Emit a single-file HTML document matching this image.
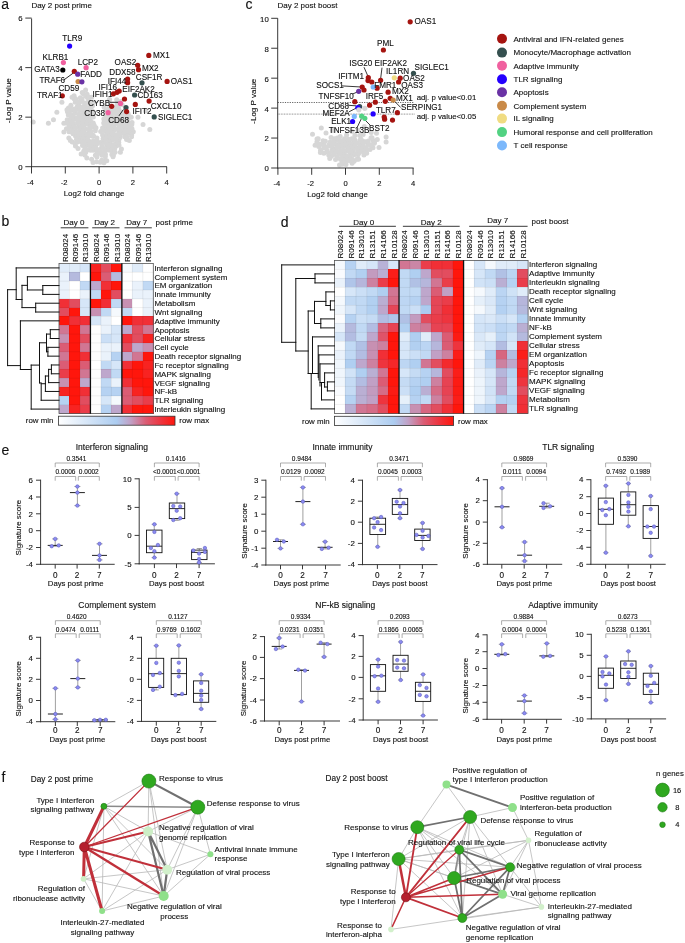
<!DOCTYPE html>
<html><head><meta charset="utf-8"><title>Figure</title>
<style>
html,body{margin:0;padding:0;background:#fff;}
svg{display:block;font-family:"Liberation Sans",sans-serif;}
text{fill:#111;stroke:#111;stroke-width:0.12px;}
</style></head><body>
<svg width="685" height="943" viewBox="0 0 685 943">
<rect width="685" height="943" fill="#fff"/>
<text x="1.2" y="8.8" font-size="14">a</text>
<text x="31.4" y="8.4" font-size="8">Day 2 post prime</text>
<g fill="#d6d6d6">
<circle cx="93.05" cy="162.54" r="2.5"/>
<circle cx="96.53" cy="161.87" r="2.5"/>
<circle cx="100.29" cy="162.3" r="2.5"/>
<circle cx="103.94" cy="162.76" r="2.5"/>
<circle cx="91.61" cy="159.19" r="2.5"/>
<circle cx="101.73" cy="160.34" r="2.5"/>
<circle cx="105.07" cy="160.16" r="2.5"/>
<circle cx="106.77" cy="160.76" r="2.5"/>
<circle cx="86.83" cy="157.92" r="2.5"/>
<circle cx="96.91" cy="156.97" r="2.5"/>
<circle cx="105.35" cy="156.46" r="2.5"/>
<circle cx="113.03" cy="156.65" r="2.5"/>
<circle cx="81.15" cy="153.89" r="2.5"/>
<circle cx="84.89" cy="155.11" r="2.5"/>
<circle cx="95.38" cy="155.3" r="2.5"/>
<circle cx="98.28" cy="153.47" r="2.5"/>
<circle cx="101.99" cy="155.24" r="2.5"/>
<circle cx="105.39" cy="154.37" r="2.5"/>
<circle cx="111.83" cy="154.38" r="2.5"/>
<circle cx="113.44" cy="154.99" r="2.5"/>
<circle cx="83.71" cy="151.15" r="2.5"/>
<circle cx="85.9" cy="151.94" r="2.5"/>
<circle cx="90.47" cy="150.34" r="2.5"/>
<circle cx="93.2" cy="150.34" r="2.5"/>
<circle cx="96.73" cy="150.97" r="2.5"/>
<circle cx="100.39" cy="152.4" r="2.5"/>
<circle cx="102.86" cy="152.44" r="2.5"/>
<circle cx="105.73" cy="150.41" r="2.5"/>
<circle cx="109.67" cy="150.31" r="2.5"/>
<circle cx="112.55" cy="151.59" r="2.5"/>
<circle cx="115.04" cy="152.15" r="2.5"/>
<circle cx="120.36" cy="152.22" r="2.5"/>
<circle cx="78.01" cy="148.52" r="2.5"/>
<circle cx="84.91" cy="148.6" r="2.5"/>
<circle cx="88.26" cy="149.44" r="2.5"/>
<circle cx="91.32" cy="148.32" r="2.5"/>
<circle cx="95.08" cy="147.9" r="2.5"/>
<circle cx="97.46" cy="149.53" r="2.5"/>
<circle cx="101.25" cy="148.58" r="2.5"/>
<circle cx="103.43" cy="148.29" r="2.5"/>
<circle cx="107.98" cy="147.42" r="2.5"/>
<circle cx="111.35" cy="148.76" r="2.5"/>
<circle cx="114.68" cy="148.4" r="2.5"/>
<circle cx="121.46" cy="149" r="2.5"/>
<circle cx="75.48" cy="145.99" r="2.5"/>
<circle cx="82.5" cy="145.51" r="2.5"/>
<circle cx="86.55" cy="145.21" r="2.5"/>
<circle cx="89.35" cy="145.19" r="2.5"/>
<circle cx="92.66" cy="145.81" r="2.5"/>
<circle cx="95.81" cy="145.33" r="2.5"/>
<circle cx="101.81" cy="145.76" r="2.5"/>
<circle cx="106.67" cy="145.19" r="2.5"/>
<circle cx="108.84" cy="146.27" r="2.5"/>
<circle cx="112.18" cy="144.92" r="2.5"/>
<circle cx="115.91" cy="146.04" r="2.5"/>
<circle cx="118.96" cy="145.24" r="2.5"/>
<circle cx="72.28" cy="142" r="2.5"/>
<circle cx="75.13" cy="143.58" r="2.5"/>
<circle cx="77.5" cy="141.9" r="2.5"/>
<circle cx="81.47" cy="142.05" r="2.5"/>
<circle cx="85.37" cy="143.48" r="2.5"/>
<circle cx="87.3" cy="142.24" r="2.5"/>
<circle cx="91.98" cy="143.04" r="2.5"/>
<circle cx="95.27" cy="142.39" r="2.5"/>
<circle cx="97.44" cy="143.38" r="2.5"/>
<circle cx="100.7" cy="142.39" r="2.5"/>
<circle cx="104.32" cy="142.56" r="2.5"/>
<circle cx="107.6" cy="143.66" r="2.5"/>
<circle cx="110.34" cy="141.64" r="2.5"/>
<circle cx="115.38" cy="143.57" r="2.5"/>
<circle cx="118.77" cy="142.59" r="2.5"/>
<circle cx="70.39" cy="140.6" r="2.5"/>
<circle cx="76.49" cy="139.4" r="2.5"/>
<circle cx="79.4" cy="139.26" r="2.5"/>
<circle cx="82.1" cy="140.06" r="2.5"/>
<circle cx="85.88" cy="140.54" r="2.5"/>
<circle cx="88.65" cy="140.75" r="2.5"/>
<circle cx="93.38" cy="140.79" r="2.5"/>
<circle cx="97.12" cy="140.74" r="2.5"/>
<circle cx="103.02" cy="138.79" r="2.5"/>
<circle cx="106.69" cy="139.14" r="2.5"/>
<circle cx="109.01" cy="140.22" r="2.5"/>
<circle cx="112.8" cy="139.67" r="2.5"/>
<circle cx="117.02" cy="140.11" r="2.5"/>
<circle cx="119" cy="139.32" r="2.5"/>
<circle cx="126.57" cy="139.54" r="2.5"/>
<circle cx="129.33" cy="140.56" r="2.5"/>
<circle cx="68.84" cy="137.92" r="2.5"/>
<circle cx="75.51" cy="135.91" r="2.5"/>
<circle cx="78.38" cy="137.79" r="2.5"/>
<circle cx="80.41" cy="136.49" r="2.5"/>
<circle cx="84.19" cy="137.05" r="2.5"/>
<circle cx="87.83" cy="136.93" r="2.5"/>
<circle cx="91.91" cy="135.89" r="2.5"/>
<circle cx="93.62" cy="136.17" r="2.5"/>
<circle cx="96.95" cy="138.03" r="2.5"/>
<circle cx="103.59" cy="136.99" r="2.5"/>
<circle cx="107.39" cy="136.58" r="2.5"/>
<circle cx="110.77" cy="137.31" r="2.5"/>
<circle cx="114.59" cy="136.68" r="2.5"/>
<circle cx="117.02" cy="136.61" r="2.5"/>
<circle cx="120.17" cy="137.11" r="2.5"/>
<circle cx="124.78" cy="136.73" r="2.5"/>
<circle cx="126.89" cy="136.71" r="2.5"/>
<circle cx="131.52" cy="136.73" r="2.5"/>
<circle cx="73" cy="133.84" r="2.5"/>
<circle cx="76.44" cy="134.57" r="2.5"/>
<circle cx="79.58" cy="134.55" r="2.5"/>
<circle cx="82.96" cy="133.56" r="2.5"/>
<circle cx="86.43" cy="134.55" r="2.5"/>
<circle cx="88.71" cy="133.95" r="2.5"/>
<circle cx="92.79" cy="134.95" r="2.5"/>
<circle cx="102.57" cy="134.99" r="2.5"/>
<circle cx="106.79" cy="133.6" r="2.5"/>
<circle cx="109.37" cy="133.29" r="2.5"/>
<circle cx="113.44" cy="134.48" r="2.5"/>
<circle cx="116.9" cy="134.76" r="2.5"/>
<circle cx="119.72" cy="134.63" r="2.5"/>
<circle cx="122.79" cy="133.25" r="2.5"/>
<circle cx="126.14" cy="133.03" r="2.5"/>
<circle cx="129.85" cy="133.12" r="2.5"/>
<circle cx="131.67" cy="134.96" r="2.5"/>
<circle cx="63.85" cy="132" r="2.5"/>
<circle cx="68.96" cy="131.63" r="2.5"/>
<circle cx="72.24" cy="132.24" r="2.5"/>
<circle cx="74.97" cy="131.91" r="2.5"/>
<circle cx="77.08" cy="131.84" r="2.5"/>
<circle cx="81.42" cy="131.72" r="2.5"/>
<circle cx="83.83" cy="131.8" r="2.5"/>
<circle cx="88.96" cy="130.28" r="2.5"/>
<circle cx="90.91" cy="131.39" r="2.5"/>
<circle cx="95.32" cy="130.68" r="2.5"/>
<circle cx="100.65" cy="131.5" r="2.5"/>
<circle cx="105.06" cy="131.01" r="2.5"/>
<circle cx="107.51" cy="131.02" r="2.5"/>
<circle cx="110.77" cy="131.07" r="2.5"/>
<circle cx="113.48" cy="131.25" r="2.5"/>
<circle cx="118.74" cy="131.06" r="2.5"/>
<circle cx="121.54" cy="130.5" r="2.5"/>
<circle cx="124.72" cy="131.81" r="2.5"/>
<circle cx="127.98" cy="131.29" r="2.5"/>
<circle cx="131.21" cy="132.12" r="2.5"/>
<circle cx="133.31" cy="131.79" r="2.5"/>
<circle cx="66.42" cy="128.86" r="2.5"/>
<circle cx="69.16" cy="127.87" r="2.5"/>
<circle cx="72.49" cy="128.57" r="2.5"/>
<circle cx="76.04" cy="127.79" r="2.5"/>
<circle cx="80.17" cy="129.37" r="2.5"/>
<circle cx="82.6" cy="128.83" r="2.5"/>
<circle cx="86.16" cy="129.16" r="2.5"/>
<circle cx="89.84" cy="127.86" r="2.5"/>
<circle cx="92.33" cy="127.33" r="2.5"/>
<circle cx="95.99" cy="127.66" r="2.5"/>
<circle cx="102.54" cy="127.99" r="2.5"/>
<circle cx="106.75" cy="127.59" r="2.5"/>
<circle cx="110.53" cy="128.33" r="2.5"/>
<circle cx="112.97" cy="128.31" r="2.5"/>
<circle cx="116.79" cy="129.08" r="2.5"/>
<circle cx="119.48" cy="128.34" r="2.5"/>
<circle cx="123.14" cy="129.16" r="2.5"/>
<circle cx="125.73" cy="128.89" r="2.5"/>
<circle cx="130.26" cy="128.31" r="2.5"/>
<circle cx="131.97" cy="128.86" r="2.5"/>
<circle cx="68.98" cy="124.94" r="2.5"/>
<circle cx="70.82" cy="124.97" r="2.5"/>
<circle cx="74.11" cy="125.96" r="2.5"/>
<circle cx="78.89" cy="126.39" r="2.5"/>
<circle cx="80.86" cy="126.31" r="2.5"/>
<circle cx="84.29" cy="125.34" r="2.5"/>
<circle cx="88.5" cy="124.6" r="2.5"/>
<circle cx="90.4" cy="126.24" r="2.5"/>
<circle cx="94.14" cy="125.19" r="2.5"/>
<circle cx="104.68" cy="125.89" r="2.5"/>
<circle cx="106.72" cy="125.14" r="2.5"/>
<circle cx="110.96" cy="125.47" r="2.5"/>
<circle cx="113.76" cy="125.69" r="2.5"/>
<circle cx="118.7" cy="125.27" r="2.5"/>
<circle cx="121.1" cy="124.67" r="2.5"/>
<circle cx="123.8" cy="125.87" r="2.5"/>
<circle cx="126.75" cy="126.36" r="2.5"/>
<circle cx="131.8" cy="124.62" r="2.5"/>
<circle cx="63.85" cy="123.2" r="2.5"/>
<circle cx="66.1" cy="123.02" r="2.5"/>
<circle cx="70.19" cy="123.31" r="2.5"/>
<circle cx="72.63" cy="123.19" r="2.5"/>
<circle cx="77.46" cy="123.02" r="2.5"/>
<circle cx="79.83" cy="121.78" r="2.5"/>
<circle cx="83.04" cy="122.31" r="2.5"/>
<circle cx="86.83" cy="123.03" r="2.5"/>
<circle cx="89.8" cy="121.94" r="2.5"/>
<circle cx="93.27" cy="122.92" r="2.5"/>
<circle cx="103.71" cy="122.98" r="2.5"/>
<circle cx="105.32" cy="123.59" r="2.5"/>
<circle cx="108.66" cy="122.26" r="2.5"/>
<circle cx="113.24" cy="122.85" r="2.5"/>
<circle cx="116.17" cy="122.96" r="2.5"/>
<circle cx="119.26" cy="122.22" r="2.5"/>
<circle cx="121.94" cy="121.69" r="2.5"/>
<circle cx="126.42" cy="123.19" r="2.5"/>
<circle cx="129.34" cy="123.16" r="2.5"/>
<circle cx="132.03" cy="122.38" r="2.5"/>
<circle cx="67.19" cy="119.77" r="2.5"/>
<circle cx="70.94" cy="120.36" r="2.5"/>
<circle cx="74.48" cy="119.4" r="2.5"/>
<circle cx="77.89" cy="119.86" r="2.5"/>
<circle cx="82" cy="119.44" r="2.5"/>
<circle cx="85.46" cy="118.91" r="2.5"/>
<circle cx="87.5" cy="118.88" r="2.5"/>
<circle cx="90.45" cy="120.38" r="2.5"/>
<circle cx="103.81" cy="119.08" r="2.5"/>
<circle cx="107.62" cy="120.3" r="2.5"/>
<circle cx="111.79" cy="120.31" r="2.5"/>
<circle cx="114.6" cy="118.99" r="2.5"/>
<circle cx="117.48" cy="119.09" r="2.5"/>
<circle cx="121.06" cy="119.91" r="2.5"/>
<circle cx="123.64" cy="119.21" r="2.5"/>
<circle cx="128.22" cy="118.73" r="2.5"/>
<circle cx="70.84" cy="116.64" r="2.5"/>
<circle cx="73.27" cy="117.08" r="2.5"/>
<circle cx="76.74" cy="117.94" r="2.5"/>
<circle cx="80.16" cy="116.45" r="2.5"/>
<circle cx="83.84" cy="116.86" r="2.5"/>
<circle cx="86.57" cy="117.39" r="2.5"/>
<circle cx="88.56" cy="117.49" r="2.5"/>
<circle cx="93.31" cy="116.88" r="2.5"/>
<circle cx="106.2" cy="116.81" r="2.5"/>
<circle cx="108.78" cy="116.96" r="2.5"/>
<circle cx="111.73" cy="116.89" r="2.5"/>
<circle cx="116.37" cy="116.77" r="2.5"/>
<circle cx="119.5" cy="117.9" r="2.5"/>
<circle cx="123.51" cy="116.09" r="2.5"/>
<circle cx="126.59" cy="117.16" r="2.5"/>
<circle cx="128.94" cy="116.31" r="2.5"/>
<circle cx="68.29" cy="114.97" r="2.5"/>
<circle cx="71.11" cy="114.84" r="2.5"/>
<circle cx="75.23" cy="113.22" r="2.5"/>
<circle cx="78.89" cy="114.24" r="2.5"/>
<circle cx="82.34" cy="114.5" r="2.5"/>
<circle cx="85.23" cy="113.68" r="2.5"/>
<circle cx="88.67" cy="114.97" r="2.5"/>
<circle cx="92.1" cy="113.88" r="2.5"/>
<circle cx="107.77" cy="113.16" r="2.5"/>
<circle cx="110.09" cy="113.09" r="2.5"/>
<circle cx="113.74" cy="113.28" r="2.5"/>
<circle cx="117.69" cy="114.46" r="2.5"/>
<circle cx="121.08" cy="113.85" r="2.5"/>
<circle cx="124.63" cy="113.59" r="2.5"/>
<circle cx="128.17" cy="113.81" r="2.5"/>
<circle cx="67.43" cy="111.63" r="2.5"/>
<circle cx="69.57" cy="111.22" r="2.5"/>
<circle cx="73.36" cy="110.54" r="2.5"/>
<circle cx="75.36" cy="110.51" r="2.5"/>
<circle cx="80.37" cy="110.37" r="2.5"/>
<circle cx="82.96" cy="110.48" r="2.5"/>
<circle cx="85.71" cy="110.43" r="2.5"/>
<circle cx="89.44" cy="110.42" r="2.5"/>
<circle cx="92.09" cy="110.42" r="2.5"/>
<circle cx="106.13" cy="110.18" r="2.5"/>
<circle cx="108.4" cy="111.04" r="2.5"/>
<circle cx="112.55" cy="111.6" r="2.5"/>
<circle cx="115.06" cy="110.94" r="2.5"/>
<circle cx="119.12" cy="110.11" r="2.5"/>
<circle cx="125.06" cy="111.1" r="2.5"/>
<circle cx="68.47" cy="107.94" r="2.5"/>
<circle cx="70.51" cy="108.78" r="2.5"/>
<circle cx="74.31" cy="108.91" r="2.5"/>
<circle cx="78.02" cy="109.23" r="2.5"/>
<circle cx="80.96" cy="107.73" r="2.5"/>
<circle cx="84.18" cy="108.97" r="2.5"/>
<circle cx="88.28" cy="107.94" r="2.5"/>
<circle cx="90.41" cy="108.68" r="2.5"/>
<circle cx="108.83" cy="108.48" r="2.5"/>
<circle cx="110.01" cy="107.25" r="2.5"/>
<circle cx="113.5" cy="107.55" r="2.5"/>
<circle cx="116.68" cy="107.3" r="2.5"/>
<circle cx="70.89" cy="105.36" r="2.5"/>
<circle cx="77.37" cy="106.38" r="2.5"/>
<circle cx="78.73" cy="104.98" r="2.5"/>
<circle cx="83.29" cy="106.39" r="2.5"/>
<circle cx="85.44" cy="104.95" r="2.5"/>
<circle cx="90.42" cy="104.56" r="2.5"/>
<circle cx="92.59" cy="105.81" r="2.5"/>
<circle cx="109.98" cy="105.92" r="2.5"/>
<circle cx="116.98" cy="105.11" r="2.5"/>
<circle cx="118.75" cy="106.02" r="2.5"/>
<circle cx="122.14" cy="104.68" r="2.5"/>
<circle cx="75.26" cy="102.29" r="2.5"/>
<circle cx="78.07" cy="101.78" r="2.5"/>
<circle cx="81.86" cy="101.49" r="2.5"/>
<circle cx="84.63" cy="103.11" r="2.5"/>
<circle cx="88.39" cy="101.65" r="2.5"/>
<circle cx="90.72" cy="103.29" r="2.5"/>
<circle cx="118.57" cy="103.05" r="2.5"/>
<circle cx="120.71" cy="101.6" r="2.5"/>
<circle cx="74.15" cy="98.8" r="2.5"/>
<circle cx="75.59" cy="98.74" r="2.5"/>
<circle cx="82.06" cy="98.9" r="2.5"/>
<circle cx="88.58" cy="99.07" r="2.5"/>
<circle cx="109.59" cy="99.49" r="2.5"/>
<circle cx="116.69" cy="99.74" r="2.5"/>
<circle cx="74.09" cy="95.87" r="2.5"/>
<circle cx="80.35" cy="97.82" r="2.5"/>
<circle cx="85.57" cy="95.88" r="2.5"/>
<circle cx="87.39" cy="97.52" r="2.5"/>
<circle cx="91.61" cy="97.37" r="2.5"/>
<circle cx="83.28" cy="93.81" r="2.5"/>
<circle cx="87.09" cy="94.13" r="2.5"/>
</g>
<circle cx="33.19" cy="122.11" r="2.5" fill="#d6d6d6"/>
<circle cx="48.4" cy="123.35" r="2.5" fill="#d6d6d6"/>
<circle cx="53.47" cy="119.64" r="2.5" fill="#d6d6d6"/>
<circle cx="56.85" cy="112.21" r="2.5" fill="#d6d6d6"/>
<circle cx="61.92" cy="102.3" r="2.5" fill="#d6d6d6"/>
<circle cx="72.06" cy="97.34" r="2.5" fill="#d6d6d6"/>
<circle cx="78.82" cy="102.3" r="2.5" fill="#d6d6d6"/>
<circle cx="82.2" cy="92.39" r="2.5" fill="#d6d6d6"/>
<circle cx="85.58" cy="89.91" r="2.5" fill="#d6d6d6"/>
<circle cx="149.8" cy="129.54" r="2.5" fill="#d6d6d6"/>
<circle cx="143.04" cy="124.59" r="2.5" fill="#d6d6d6"/>
<circle cx="137.97" cy="117.16" r="2.5" fill="#d6d6d6"/>
<circle cx="129.52" cy="127.07" r="2.5" fill="#d6d6d6"/>
<circle cx="131.21" cy="117.16" r="2.5" fill="#d6d6d6"/>
<circle cx="88.96" cy="97.34" r="2.5" fill="#d6d6d6"/>
<circle cx="94.03" cy="102.3" r="2.5" fill="#d6d6d6"/>
<circle cx="109.24" cy="99.82" r="2.5" fill="#d6d6d6"/>
<circle cx="104.17" cy="107.25" r="2.5" fill="#d6d6d6"/>
<circle cx="66.99" cy="109.73" r="2.5" fill="#d6d6d6"/>
<circle cx="145.57" cy="110.97" r="2.5" fill="#d6d6d6"/>
<circle cx="121.07" cy="112.21" r="2.5" fill="#d6d6d6"/>
<line x1="31.6" y1="18.5" x2="31.6" y2="167.2" stroke="#2e2e2e" stroke-width="0.95"/>
<line x1="31.1" y1="166.7" x2="166.9" y2="166.7" stroke="#2e2e2e" stroke-width="0.95"/>
<line x1="25.3" y1="166.7" x2="31.6" y2="166.7" stroke="#2e2e2e" stroke-width="0.95"/>
<text x="22.7" y="170" font-size="7.8" text-anchor="end">0</text>
<line x1="25.3" y1="117.16" x2="31.6" y2="117.16" stroke="#2e2e2e" stroke-width="0.95"/>
<text x="22.7" y="120.46" font-size="7.8" text-anchor="end">2</text>
<line x1="25.3" y1="67.62" x2="31.6" y2="67.62" stroke="#2e2e2e" stroke-width="0.95"/>
<text x="22.7" y="70.92" font-size="7.8" text-anchor="end">4</text>
<line x1="25.3" y1="18.08" x2="31.6" y2="18.08" stroke="#2e2e2e" stroke-width="0.95"/>
<text x="22.7" y="21.38" font-size="7.8" text-anchor="end">6</text>
<line x1="31.5" y1="166.7" x2="31.5" y2="173.5" stroke="#2e2e2e" stroke-width="0.95"/>
<text x="30.4" y="184.5" font-size="7.6" text-anchor="middle">-4</text>
<line x1="65.3" y1="166.7" x2="65.3" y2="173.5" stroke="#2e2e2e" stroke-width="0.95"/>
<text x="64.2" y="184.5" font-size="7.6" text-anchor="middle">-2</text>
<line x1="99.1" y1="166.7" x2="99.1" y2="173.5" stroke="#2e2e2e" stroke-width="0.95"/>
<text x="99.1" y="184.5" font-size="7.6" text-anchor="middle">0</text>
<line x1="132.9" y1="166.7" x2="132.9" y2="173.5" stroke="#2e2e2e" stroke-width="0.95"/>
<text x="132.9" y="184.5" font-size="7.6" text-anchor="middle">2</text>
<line x1="166.7" y1="166.7" x2="166.7" y2="173.5" stroke="#2e2e2e" stroke-width="0.95"/>
<text x="166.7" y="184.5" font-size="7.6" text-anchor="middle">4</text>
<text x="94" y="195.8" font-size="7.9" text-anchor="middle">Log2 fold change</text>
<text x="11" y="100.6" font-size="8" text-anchor="middle" transform="rotate(-90 11 100.6)">-Log P value</text>
<line x1="63.8" y1="80" x2="73.3" y2="73" stroke="#111" stroke-width="0.9"/>
<line x1="109.3" y1="102.3" x2="118.9" y2="102.3" stroke="#111" stroke-width="0.9"/>
<line x1="118.9" y1="115.9" x2="123.4" y2="109.5" stroke="#111" stroke-width="0.9"/>
<circle cx="69.6" cy="46.1" r="2.6" fill="#2400ff"/>
<circle cx="63.4" cy="62.6" r="2.6" fill="#f0609f"/>
<circle cx="86.1" cy="67.7" r="2.6" fill="#f0609f"/>
<circle cx="62.8" cy="70" r="2.6" fill="#000"/>
<circle cx="74.3" cy="71.3" r="2.6" fill="#a51410"/>
<circle cx="77.7" cy="74.2" r="2.6" fill="#6a32a5"/>
<circle cx="78.1" cy="81.5" r="2.6" fill="#c98a48"/>
<circle cx="81.9" cy="81.8" r="2.6" fill="#6a32a5"/>
<circle cx="62.3" cy="95.8" r="2.6" fill="#a51410"/>
<circle cx="148.8" cy="55.4" r="2.6" fill="#a51410"/>
<circle cx="137.7" cy="65.3" r="2.6" fill="#a51410"/>
<circle cx="138.5" cy="69.7" r="2.6" fill="#a51410"/>
<circle cx="127.6" cy="79" r="2.6" fill="#a51410"/>
<circle cx="127.6" cy="82.7" r="2.6" fill="#a51410"/>
<circle cx="142" cy="82.8" r="2.6" fill="#35504f"/>
<circle cx="167.1" cy="81.4" r="2.6" fill="#a51410"/>
<circle cx="119.2" cy="91" r="2.6" fill="#a51410"/>
<circle cx="117" cy="92.3" r="2.6" fill="#a51410"/>
<circle cx="113.4" cy="93.8" r="2.6" fill="#a51410"/>
<circle cx="134.6" cy="95" r="2.6" fill="#35504f"/>
<circle cx="124.5" cy="99" r="2.6" fill="#a51410"/>
<circle cx="149.1" cy="101.1" r="2.6" fill="#a51410"/>
<circle cx="135.3" cy="104.4" r="2.6" fill="#a51410"/>
<circle cx="120.5" cy="103.4" r="2.6" fill="#f0609f"/>
<circle cx="111.7" cy="106.3" r="2.6" fill="#a51410"/>
<circle cx="126" cy="107.6" r="2.6" fill="#35504f"/>
<circle cx="126.6" cy="111.6" r="2.6" fill="#a51410"/>
<circle cx="108.1" cy="112.7" r="2.6" fill="#f0609f"/>
<circle cx="154.2" cy="116.9" r="2.6" fill="#35504f"/>
<text x="62.3" y="41.4" font-size="8.15">TLR9</text>
<text x="42.6" y="59.6" font-size="8.15">KLRB1</text>
<text x="77.7" y="64.7" font-size="8.15">LCP2</text>
<text x="34.3" y="72.3" font-size="8.15">GATA3</text>
<text x="80.3" y="77.2" font-size="8.15">FADD</text>
<text x="39.4" y="83" font-size="8.15">TRAF6</text>
<text x="58.4" y="90.7" font-size="8.15">CD59</text>
<text x="36.9" y="97.6" font-size="8.15">TRAF1</text>
<text x="153.1" y="57.6" font-size="8.15">MX1</text>
<text x="114.6" y="64.5" font-size="8.15">OAS2</text>
<text x="141.9" y="71.4" font-size="8.15">MX2</text>
<text x="109.3" y="75.4" font-size="8.15">DDX58</text>
<text x="135.8" y="79.8" font-size="8.15">CSF1R</text>
<text x="170.8" y="84.1" font-size="8.15">OAS1</text>
<text x="107.7" y="84.1" font-size="8.15">IFI44</text>
<text x="98.5" y="90.2" font-size="8.15">IFI16</text>
<text x="122.3" y="92.3" font-size="8.15">EIF2AK2</text>
<text x="92.6" y="97.4" font-size="8.15">IFIH1</text>
<text x="137.4" y="98.3" font-size="8.15">CD163</text>
<text x="88" y="106.3" font-size="8.15">CYBB</text>
<text x="150.7" y="109" font-size="8.15">CXCL10</text>
<text x="132.6" y="114" font-size="8.15">IFIT2</text>
<text x="84.3" y="115.6" font-size="8.15">CD38</text>
<text x="158" y="119.6" font-size="8.15">SIGLEC1</text>
<text x="108.2" y="123.1" font-size="8.15">CD68</text>
<text x="245.6" y="9.4" font-size="14">c</text>
<text x="277.5" y="8.4" font-size="8">Day 2 post boost</text>
<g fill="#d6d6d6">
<circle cx="339.48" cy="165.06" r="2.5"/>
<circle cx="342.67" cy="164.32" r="2.5"/>
<circle cx="345.98" cy="164.41" r="2.5"/>
<circle cx="352.12" cy="163.23" r="2.5"/>
<circle cx="342.06" cy="162.28" r="2.5"/>
<circle cx="344.64" cy="161.51" r="2.5"/>
<circle cx="346.53" cy="161.32" r="2.5"/>
<circle cx="350.22" cy="160.69" r="2.5"/>
<circle cx="354.12" cy="161.13" r="2.5"/>
<circle cx="329.76" cy="158.39" r="2.5"/>
<circle cx="335.56" cy="159.48" r="2.5"/>
<circle cx="340.44" cy="159.14" r="2.5"/>
<circle cx="343.11" cy="157.98" r="2.5"/>
<circle cx="345.36" cy="157.92" r="2.5"/>
<circle cx="348.3" cy="158.97" r="2.5"/>
<circle cx="352.33" cy="159.15" r="2.5"/>
<circle cx="356.86" cy="159.15" r="2.5"/>
<circle cx="358.51" cy="159.29" r="2.5"/>
<circle cx="328.86" cy="155.29" r="2.5"/>
<circle cx="331.38" cy="156.13" r="2.5"/>
<circle cx="333.89" cy="154.61" r="2.5"/>
<circle cx="337.33" cy="156.54" r="2.5"/>
<circle cx="341.57" cy="154.68" r="2.5"/>
<circle cx="343.74" cy="154.64" r="2.5"/>
<circle cx="346.63" cy="156.17" r="2.5"/>
<circle cx="350.19" cy="155.65" r="2.5"/>
<circle cx="354.08" cy="154.84" r="2.5"/>
<circle cx="358.01" cy="154.7" r="2.5"/>
<circle cx="363.93" cy="154.88" r="2.5"/>
<circle cx="323.89" cy="153.31" r="2.5"/>
<circle cx="327" cy="152.01" r="2.5"/>
<circle cx="329.22" cy="153.42" r="2.5"/>
<circle cx="333.06" cy="151.77" r="2.5"/>
<circle cx="337.13" cy="152.01" r="2.5"/>
<circle cx="338.82" cy="153.24" r="2.5"/>
<circle cx="342.27" cy="152.2" r="2.5"/>
<circle cx="345.01" cy="151.74" r="2.5"/>
<circle cx="349.43" cy="152.08" r="2.5"/>
<circle cx="352.77" cy="152.36" r="2.5"/>
<circle cx="355.75" cy="153.66" r="2.5"/>
<circle cx="359.11" cy="152.81" r="2.5"/>
<circle cx="363.26" cy="151.95" r="2.5"/>
<circle cx="366.65" cy="153.34" r="2.5"/>
<circle cx="320.52" cy="150.3" r="2.5"/>
<circle cx="327.13" cy="150.76" r="2.5"/>
<circle cx="331.94" cy="150" r="2.5"/>
<circle cx="334.23" cy="148.9" r="2.5"/>
<circle cx="336.69" cy="150.79" r="2.5"/>
<circle cx="340.42" cy="150.22" r="2.5"/>
<circle cx="343.77" cy="150.49" r="2.5"/>
<circle cx="347.81" cy="149.32" r="2.5"/>
<circle cx="350.19" cy="150.26" r="2.5"/>
<circle cx="353.25" cy="149.18" r="2.5"/>
<circle cx="357.63" cy="150.55" r="2.5"/>
<circle cx="361.05" cy="149.29" r="2.5"/>
<circle cx="365.02" cy="149.12" r="2.5"/>
<circle cx="366.89" cy="149.65" r="2.5"/>
<circle cx="369.99" cy="149.49" r="2.5"/>
<circle cx="318.74" cy="146.6" r="2.5"/>
<circle cx="323.71" cy="147.96" r="2.5"/>
<circle cx="326.5" cy="147.32" r="2.5"/>
<circle cx="329.64" cy="146.11" r="2.5"/>
<circle cx="331.73" cy="145.84" r="2.5"/>
<circle cx="336.95" cy="147.35" r="2.5"/>
<circle cx="340.37" cy="145.85" r="2.5"/>
<circle cx="342.95" cy="146.86" r="2.5"/>
<circle cx="346.46" cy="146.5" r="2.5"/>
<circle cx="350.35" cy="145.97" r="2.5"/>
<circle cx="352.65" cy="147.42" r="2.5"/>
<circle cx="356.73" cy="147.42" r="2.5"/>
<circle cx="359.6" cy="147.55" r="2.5"/>
<circle cx="363.36" cy="146.58" r="2.5"/>
<circle cx="366.16" cy="147.78" r="2.5"/>
<circle cx="372.99" cy="147.7" r="2.5"/>
<circle cx="318.17" cy="143.77" r="2.5"/>
<circle cx="321.38" cy="144.27" r="2.5"/>
<circle cx="323.58" cy="144.34" r="2.5"/>
<circle cx="328.89" cy="144.87" r="2.5"/>
<circle cx="331.6" cy="143.79" r="2.5"/>
<circle cx="334.92" cy="144.21" r="2.5"/>
<circle cx="337.57" cy="144.78" r="2.5"/>
<circle cx="340.08" cy="144.58" r="2.5"/>
<circle cx="343.27" cy="144.25" r="2.5"/>
<circle cx="347.56" cy="143.44" r="2.5"/>
<circle cx="351.34" cy="144.03" r="2.5"/>
<circle cx="354.45" cy="144.96" r="2.5"/>
<circle cx="356.96" cy="142.96" r="2.5"/>
<circle cx="360.36" cy="144.42" r="2.5"/>
<circle cx="363.45" cy="143.31" r="2.5"/>
<circle cx="368.29" cy="144.38" r="2.5"/>
<circle cx="370.57" cy="144.89" r="2.5"/>
<circle cx="374.36" cy="143.37" r="2.5"/>
<circle cx="316.92" cy="142.07" r="2.5"/>
<circle cx="323.03" cy="140.76" r="2.5"/>
<circle cx="325.35" cy="141.15" r="2.5"/>
<circle cx="330.19" cy="141.93" r="2.5"/>
<circle cx="333.21" cy="142.15" r="2.5"/>
<circle cx="335.56" cy="140.43" r="2.5"/>
<circle cx="339.24" cy="140.67" r="2.5"/>
<circle cx="342.02" cy="140.97" r="2.5"/>
<circle cx="346.23" cy="141.15" r="2.5"/>
<circle cx="348.84" cy="141.91" r="2.5"/>
<circle cx="353.61" cy="141.06" r="2.5"/>
<circle cx="354.91" cy="140.13" r="2.5"/>
<circle cx="359.97" cy="140.15" r="2.5"/>
<circle cx="362.91" cy="141.32" r="2.5"/>
<circle cx="365.33" cy="141.8" r="2.5"/>
<circle cx="368.25" cy="141.06" r="2.5"/>
<circle cx="373.08" cy="140.58" r="2.5"/>
<circle cx="374.65" cy="141.45" r="2.5"/>
<circle cx="318.19" cy="138.63" r="2.5"/>
<circle cx="331.05" cy="137.58" r="2.5"/>
<circle cx="334.34" cy="138.76" r="2.5"/>
<circle cx="337.2" cy="137.95" r="2.5"/>
<circle cx="344.55" cy="138.85" r="2.5"/>
<circle cx="348.24" cy="139.18" r="2.5"/>
<circle cx="351.85" cy="138.78" r="2.5"/>
<circle cx="354.1" cy="138.57" r="2.5"/>
<circle cx="360.95" cy="139.12" r="2.5"/>
<circle cx="371.03" cy="137.64" r="2.5"/>
<circle cx="340.23" cy="136.48" r="2.5"/>
<circle cx="346.59" cy="135.02" r="2.5"/>
<circle cx="354.93" cy="135.29" r="2.5"/>
<circle cx="359.74" cy="135.39" r="2.5"/>
<circle cx="363.13" cy="134.46" r="2.5"/>
</g>
<circle cx="321.3" cy="128" r="2.5" fill="#d6d6d6"/>
<circle cx="312.5" cy="134.2" r="2.5" fill="#d6d6d6"/>
<circle cx="315.1" cy="145.2" r="2.5" fill="#d6d6d6"/>
<circle cx="320.4" cy="152.6" r="2.5" fill="#d6d6d6"/>
<circle cx="386.1" cy="137.1" r="2.5" fill="#d6d6d6"/>
<circle cx="386.1" cy="142" r="2.5" fill="#d6d6d6"/>
<circle cx="377.3" cy="139.4" r="2.5" fill="#d6d6d6"/>
<circle cx="372" cy="144.7" r="2.5" fill="#d6d6d6"/>
<circle cx="364.2" cy="126.5" r="2.5" fill="#d6d6d6"/>
<circle cx="371.2" cy="132.4" r="2.5" fill="#d6d6d6"/>
<circle cx="372" cy="137.7" r="2.5" fill="#d6d6d6"/>
<circle cx="376.5" cy="133.3" r="2.5" fill="#d6d6d6"/>
<circle cx="317" cy="139" r="2.5" fill="#d6d6d6"/>
<circle cx="379" cy="147.5" r="2.5" fill="#d6d6d6"/>
<circle cx="326" cy="133" r="2.5" fill="#d6d6d6"/>
<circle cx="333" cy="130.5" r="2.5" fill="#d6d6d6"/>
<circle cx="352" cy="131.5" r="2.5" fill="#d6d6d6"/>
<circle cx="358" cy="130.5" r="2.5" fill="#d6d6d6"/>
<line x1="277.7" y1="102.5" x2="414.5" y2="102.5" stroke="#222" stroke-width="0.7" stroke-dasharray="1.2 1.2"/>
<line x1="277.7" y1="114.1" x2="414.5" y2="114.1" stroke="#999" stroke-width="1.2" stroke-dasharray="0.8 0.8"/>
<line x1="277.7" y1="18.2" x2="277.7" y2="168.5" stroke="#2e2e2e" stroke-width="0.95"/>
<line x1="277.2" y1="168" x2="413.6" y2="168" stroke="#2e2e2e" stroke-width="0.95"/>
<line x1="271.2" y1="168" x2="277.7" y2="168" stroke="#2e2e2e" stroke-width="0.95"/>
<text x="268.8" y="171.4" font-size="7.8" text-anchor="end">0</text>
<line x1="271.2" y1="138.06" x2="277.7" y2="138.06" stroke="#2e2e2e" stroke-width="0.95"/>
<text x="268.8" y="141.46" font-size="7.8" text-anchor="end">2</text>
<line x1="271.2" y1="108.12" x2="277.7" y2="108.12" stroke="#2e2e2e" stroke-width="0.95"/>
<text x="268.8" y="111.52" font-size="7.8" text-anchor="end">4</text>
<line x1="271.2" y1="78.18" x2="277.7" y2="78.18" stroke="#2e2e2e" stroke-width="0.95"/>
<text x="268.8" y="81.58" font-size="7.8" text-anchor="end">6</text>
<line x1="271.2" y1="48.24" x2="277.7" y2="48.24" stroke="#2e2e2e" stroke-width="0.95"/>
<text x="268.8" y="51.64" font-size="7.8" text-anchor="end">8</text>
<line x1="271.2" y1="18.3" x2="277.7" y2="18.3" stroke="#2e2e2e" stroke-width="0.95"/>
<text x="268.8" y="21.7" font-size="7.8" text-anchor="end">10</text>
<line x1="277.9" y1="168" x2="277.9" y2="174.8" stroke="#2e2e2e" stroke-width="0.95"/>
<text x="276.8" y="185.7" font-size="7.6" text-anchor="middle">-4</text>
<line x1="311.7" y1="168" x2="311.7" y2="174.8" stroke="#2e2e2e" stroke-width="0.95"/>
<text x="310.6" y="185.7" font-size="7.6" text-anchor="middle">-2</text>
<line x1="345.5" y1="168" x2="345.5" y2="174.8" stroke="#2e2e2e" stroke-width="0.95"/>
<text x="345.5" y="185.7" font-size="7.6" text-anchor="middle">0</text>
<line x1="379.3" y1="168" x2="379.3" y2="174.8" stroke="#2e2e2e" stroke-width="0.95"/>
<text x="379.3" y="185.7" font-size="7.6" text-anchor="middle">2</text>
<line x1="413.1" y1="168" x2="413.1" y2="174.8" stroke="#2e2e2e" stroke-width="0.95"/>
<text x="413.1" y="185.7" font-size="7.6" text-anchor="middle">4</text>
<text x="337.5" y="196.5" font-size="7.9" text-anchor="middle">Log2 fold change</text>
<text x="256" y="101.3" font-size="8" text-anchor="middle" transform="rotate(-90 256 101.3)">-Log P value</text>
<line x1="364" y1="67.2" x2="368" y2="76.4" stroke="#222" stroke-width="0.9"/>
<line x1="382" y1="67.7" x2="380.6" y2="78.9" stroke="#222" stroke-width="0.9"/>
<line x1="342" y1="85.9" x2="361.3" y2="87" stroke="#222" stroke-width="0.9"/>
<line x1="352.6" y1="94" x2="357.5" y2="91.9" stroke="#222" stroke-width="0.9"/>
<line x1="348.2" y1="105.3" x2="356" y2="105.8" stroke="#222" stroke-width="0.9"/>
<line x1="394.6" y1="101.3" x2="400.7" y2="107.5" stroke="#222" stroke-width="0.9"/>
<line x1="349" y1="111.8" x2="356.4" y2="108" stroke="#222" stroke-width="0.9"/>
<line x1="357.2" y1="127.3" x2="361.4" y2="118.6" stroke="#222" stroke-width="0.9"/>
<line x1="370" y1="125" x2="363.6" y2="118.6" stroke="#222" stroke-width="0.9"/>
<circle cx="410.2" cy="21.8" r="2.6" fill="#a51410"/>
<circle cx="383.4" cy="50" r="2.6" fill="#a51410"/>
<circle cx="368.3" cy="77.7" r="2.6" fill="#a51410"/>
<circle cx="371.8" cy="82" r="2.6" fill="#a51410"/>
<circle cx="368" cy="80.6" r="2.6" fill="#a51410"/>
<circle cx="380.6" cy="80.3" r="2.6" fill="#a51410"/>
<circle cx="394.3" cy="77.8" r="2.6" fill="#f0dc82"/>
<circle cx="413.5" cy="73.3" r="2.6" fill="#35504f"/>
<circle cx="400.2" cy="78.2" r="2.6" fill="#a51410"/>
<circle cx="398.6" cy="82" r="2.6" fill="#a51410"/>
<circle cx="377.1" cy="88.2" r="2.6" fill="#a51410"/>
<circle cx="373.2" cy="87" r="2.6" fill="#7cb8fb"/>
<circle cx="362.2" cy="87" r="2.6" fill="#a51410"/>
<circle cx="364" cy="90" r="2.6" fill="#a51410"/>
<circle cx="358.7" cy="91.3" r="2.6" fill="#6a32a5"/>
<circle cx="388.1" cy="92.2" r="2.6" fill="#a51410"/>
<circle cx="390.2" cy="98.3" r="2.6" fill="#a51410"/>
<circle cx="393.2" cy="100.1" r="2.6" fill="#c98a48"/>
<circle cx="385.3" cy="101.3" r="2.6" fill="#a51410"/>
<circle cx="375.3" cy="102.2" r="2.6" fill="#a51410"/>
<circle cx="354.8" cy="101.7" r="2.6" fill="#a51410"/>
<circle cx="369.6" cy="105.2" r="2.6" fill="#a51410"/>
<circle cx="359.6" cy="106.6" r="2.6" fill="#35504f"/>
<circle cx="357.8" cy="107.5" r="2.6" fill="#2400ff"/>
<circle cx="364.8" cy="108.3" r="2.6" fill="#d6d6d6"/>
<circle cx="358.8" cy="109.8" r="2.6" fill="#d6d6d6"/>
<circle cx="373.1" cy="113.9" r="2.6" fill="#2400ff"/>
<circle cx="397.4" cy="112.7" r="2.6" fill="#a51410"/>
<circle cx="354.3" cy="116.4" r="2.6" fill="#7cb8fb"/>
<circle cx="352.6" cy="121.5" r="2.6" fill="#2400ff"/>
<circle cx="361.7" cy="116.2" r="2.6" fill="#52d282"/>
<circle cx="364.8" cy="118.3" r="2.6" fill="#52d282"/>
<circle cx="384.6" cy="119.2" r="2.6" fill="#a51410"/>
<circle cx="392.5" cy="120.1" r="2.6" fill="#a51410"/>
<circle cx="384.2" cy="117" r="2.6" fill="#a51410"/>
<text x="414.5" y="24" font-size="8.15">OAS1</text>
<text x="377.1" y="45.8" font-size="8.15">PML</text>
<text x="349.3" y="65.9" font-size="8.15">ISG20</text>
<text x="374.5" y="65.9" font-size="8.15">EIF2AK2</text>
<text x="386.1" y="74.2" font-size="8.15">IL1RN</text>
<text x="414.5" y="69.8" font-size="8.15">SIGLEC1</text>
<text x="338.2" y="79.4" font-size="8.15">IFITM1</text>
<text x="403.1" y="81.2" font-size="8.15">OAS2</text>
<text x="316.3" y="87.7" font-size="8.15">SOCS1</text>
<text x="374.2" y="88.4" font-size="8.15">FMR1</text>
<text x="401.3" y="88.4" font-size="8.15">OAS3</text>
<text x="318.6" y="98.7" font-size="8.15">TNFSF10</text>
<text x="365.7" y="99.2" font-size="8.15">IRF5</text>
<text x="392" y="94.2" font-size="8.15">MX2</text>
<text x="396.1" y="100.8" font-size="8.15">MX1</text>
<text x="328.3" y="108.9" font-size="8.15">CD68</text>
<text x="401" y="109.6" font-size="8.15">SERPING1</text>
<text x="375.9" y="112.7" font-size="8.15">TLR7</text>
<text x="322.5" y="115.7" font-size="8.15">MEF2A</text>
<text x="331.2" y="123.7" font-size="8.15">ELK1</text>
<text x="328.7" y="133.1" font-size="8.15">TNFSF13B</text>
<text x="369.1" y="131.1" font-size="8.15">BST2</text>
<text x="416.7" y="100.3" font-size="7.8">adj. p value&lt;0.01</text>
<text x="416.7" y="118.5" font-size="7.8">adj. p value&lt;0.05</text>
<circle cx="502" cy="38.8" r="5" fill="#a51410"/>
<text x="513.5" y="41.6" font-size="8">Antiviral and IFN-related genes</text>
<circle cx="502" cy="52.6" r="5" fill="#35504f"/>
<text x="513.5" y="55.4" font-size="8">Monocyte/Macrophage activation</text>
<circle cx="502" cy="65.7" r="5" fill="#f0609f"/>
<text x="513.5" y="68.5" font-size="8">Adaptive immunity</text>
<circle cx="502" cy="79.2" r="5" fill="#2400ff"/>
<text x="513.5" y="82" font-size="8">TLR signaling</text>
<circle cx="502" cy="92.3" r="5" fill="#6a32a5"/>
<text x="513.5" y="95.1" font-size="8">Apoptosis</text>
<circle cx="502" cy="105.8" r="5" fill="#c98a48"/>
<text x="513.5" y="108.6" font-size="8">Complement system</text>
<circle cx="502" cy="118.6" r="5" fill="#f0dc82"/>
<text x="513.5" y="121.4" font-size="8">IL signaling</text>
<circle cx="502" cy="132.1" r="5" fill="#52d282"/>
<text x="513.5" y="134.9" font-size="8">Humoral response and cell proliferation</text>
<circle cx="502" cy="145.5" r="5" fill="#7cb8fb"/>
<text x="513.5" y="148.3" font-size="8">T cell response</text>
<text x="1.5" y="226.4" font-size="14">b</text>
<g shape-rendering="crispEdges">
<rect x="59" y="263.5" width="10.78" height="9.12" fill="#e0ecf9"/>
<rect x="69.48" y="263.5" width="10.78" height="9.12" fill="#e0ecf9"/>
<rect x="79.96" y="263.5" width="10.78" height="9.12" fill="#d6e6f8"/>
<rect x="90.43" y="263.5" width="10.78" height="9.12" fill="#f82321"/>
<rect x="100.91" y="263.5" width="10.78" height="9.12" fill="#e24d5f"/>
<rect x="111.39" y="263.5" width="10.78" height="9.12" fill="#ff160c"/>
<rect x="121.87" y="263.5" width="10.78" height="9.12" fill="#f5f9fd"/>
<rect x="132.34" y="263.5" width="10.78" height="9.12" fill="#e0ecf9"/>
<rect x="142.82" y="263.5" width="10.78" height="9.12" fill="#ffffff"/>
<rect x="59" y="272.32" width="10.78" height="9.12" fill="#eaf2fb"/>
<rect x="69.48" y="272.32" width="10.78" height="9.12" fill="#b5bade"/>
<rect x="79.96" y="272.32" width="10.78" height="9.12" fill="#ffffff"/>
<rect x="90.43" y="272.32" width="10.78" height="9.12" fill="#ff160c"/>
<rect x="100.91" y="272.32" width="10.78" height="9.12" fill="#db5c74"/>
<rect x="111.39" y="272.32" width="10.78" height="9.12" fill="#b5bade"/>
<rect x="121.87" y="272.32" width="10.78" height="9.12" fill="#ffffff"/>
<rect x="132.34" y="272.32" width="10.78" height="9.12" fill="#ffffff"/>
<rect x="142.82" y="272.32" width="10.78" height="9.12" fill="#ffffff"/>
<rect x="59" y="281.15" width="10.78" height="9.12" fill="#eaf2fb"/>
<rect x="69.48" y="281.15" width="10.78" height="9.12" fill="#ffffff"/>
<rect x="79.96" y="281.15" width="10.78" height="9.12" fill="#c1d9f4"/>
<rect x="90.43" y="281.15" width="10.78" height="9.12" fill="#bea7cc"/>
<rect x="100.91" y="281.15" width="10.78" height="9.12" fill="#f12f36"/>
<rect x="111.39" y="281.15" width="10.78" height="9.12" fill="#ff160c"/>
<rect x="121.87" y="281.15" width="10.78" height="9.12" fill="#ffffff"/>
<rect x="132.34" y="281.15" width="10.78" height="9.12" fill="#eaf2fb"/>
<rect x="142.82" y="281.15" width="10.78" height="9.12" fill="#c1d9f4"/>
<rect x="59" y="289.97" width="10.78" height="9.12" fill="#eaf2fb"/>
<rect x="69.48" y="289.97" width="10.78" height="9.12" fill="#ffffff"/>
<rect x="79.96" y="289.97" width="10.78" height="9.12" fill="#eaf2fb"/>
<rect x="90.43" y="289.97" width="10.78" height="9.12" fill="#c1d9f4"/>
<rect x="100.91" y="289.97" width="10.78" height="9.12" fill="#ff160c"/>
<rect x="111.39" y="289.97" width="10.78" height="9.12" fill="#e24d5f"/>
<rect x="121.87" y="289.97" width="10.78" height="9.12" fill="#ffffff"/>
<rect x="132.34" y="289.97" width="10.78" height="9.12" fill="#eaf2fb"/>
<rect x="142.82" y="289.97" width="10.78" height="9.12" fill="#eaf2fb"/>
<rect x="59" y="298.79" width="10.78" height="9.12" fill="#f12f36"/>
<rect x="69.48" y="298.79" width="10.78" height="9.12" fill="#e24d5f"/>
<rect x="79.96" y="298.79" width="10.78" height="9.12" fill="#d6e6f8"/>
<rect x="90.43" y="298.79" width="10.78" height="9.12" fill="#ff160c"/>
<rect x="100.91" y="298.79" width="10.78" height="9.12" fill="#f12f36"/>
<rect x="111.39" y="298.79" width="10.78" height="9.12" fill="#c1d9f4"/>
<rect x="121.87" y="298.79" width="10.78" height="9.12" fill="#c790b2"/>
<rect x="132.34" y="298.79" width="10.78" height="9.12" fill="#ffffff"/>
<rect x="142.82" y="298.79" width="10.78" height="9.12" fill="#eaf2fb"/>
<rect x="59" y="307.62" width="10.78" height="9.12" fill="#e24d5f"/>
<rect x="69.48" y="307.62" width="10.78" height="9.12" fill="#ff160c"/>
<rect x="79.96" y="307.62" width="10.78" height="9.12" fill="#d6e6f8"/>
<rect x="90.43" y="307.62" width="10.78" height="9.12" fill="#c790b2"/>
<rect x="100.91" y="307.62" width="10.78" height="9.12" fill="#c1d9f4"/>
<rect x="111.39" y="307.62" width="10.78" height="9.12" fill="#f5f9fd"/>
<rect x="121.87" y="307.62" width="10.78" height="9.12" fill="#c1d9f4"/>
<rect x="132.34" y="307.62" width="10.78" height="9.12" fill="#ffffff"/>
<rect x="142.82" y="307.62" width="10.78" height="9.12" fill="#eaf2fb"/>
<rect x="59" y="316.44" width="10.78" height="9.12" fill="#ff160c"/>
<rect x="69.48" y="316.44" width="10.78" height="9.12" fill="#f12f36"/>
<rect x="79.96" y="316.44" width="10.78" height="9.12" fill="#f12f36"/>
<rect x="90.43" y="316.44" width="10.78" height="9.12" fill="#d6e6f8"/>
<rect x="100.91" y="316.44" width="10.78" height="9.12" fill="#eaf2fb"/>
<rect x="111.39" y="316.44" width="10.78" height="9.12" fill="#ffffff"/>
<rect x="121.87" y="316.44" width="10.78" height="9.12" fill="#ff160c"/>
<rect x="132.34" y="316.44" width="10.78" height="9.12" fill="#f12f36"/>
<rect x="142.82" y="316.44" width="10.78" height="9.12" fill="#f12f36"/>
<rect x="59" y="325.26" width="10.78" height="9.12" fill="#d17693"/>
<rect x="69.48" y="325.26" width="10.78" height="9.12" fill="#ff160c"/>
<rect x="79.96" y="325.26" width="10.78" height="9.12" fill="#d17693"/>
<rect x="90.43" y="325.26" width="10.78" height="9.12" fill="#ffffff"/>
<rect x="100.91" y="325.26" width="10.78" height="9.12" fill="#eaf2fb"/>
<rect x="111.39" y="325.26" width="10.78" height="9.12" fill="#d6e6f8"/>
<rect x="121.87" y="325.26" width="10.78" height="9.12" fill="#bea7cc"/>
<rect x="132.34" y="325.26" width="10.78" height="9.12" fill="#e24d5f"/>
<rect x="142.82" y="325.26" width="10.78" height="9.12" fill="#d17693"/>
<rect x="59" y="334.09" width="10.78" height="9.12" fill="#c790b2"/>
<rect x="69.48" y="334.09" width="10.78" height="9.12" fill="#ff160c"/>
<rect x="79.96" y="334.09" width="10.78" height="9.12" fill="#e24d5f"/>
<rect x="90.43" y="334.09" width="10.78" height="9.12" fill="#ffffff"/>
<rect x="100.91" y="334.09" width="10.78" height="9.12" fill="#cbdff6"/>
<rect x="111.39" y="334.09" width="10.78" height="9.12" fill="#d6e6f8"/>
<rect x="121.87" y="334.09" width="10.78" height="9.12" fill="#f12f36"/>
<rect x="132.34" y="334.09" width="10.78" height="9.12" fill="#e24d5f"/>
<rect x="142.82" y="334.09" width="10.78" height="9.12" fill="#f82321"/>
<rect x="59" y="342.91" width="10.78" height="9.12" fill="#db5c74"/>
<rect x="69.48" y="342.91" width="10.78" height="9.12" fill="#ff160c"/>
<rect x="79.96" y="342.91" width="10.78" height="9.12" fill="#d17693"/>
<rect x="90.43" y="342.91" width="10.78" height="9.12" fill="#ffffff"/>
<rect x="100.91" y="342.91" width="10.78" height="9.12" fill="#eaf2fb"/>
<rect x="111.39" y="342.91" width="10.78" height="9.12" fill="#eaf2fb"/>
<rect x="121.87" y="342.91" width="10.78" height="9.12" fill="#e24d5f"/>
<rect x="132.34" y="342.91" width="10.78" height="9.12" fill="#bea7cc"/>
<rect x="142.82" y="342.91" width="10.78" height="9.12" fill="#c790b2"/>
<rect x="59" y="351.74" width="10.78" height="9.12" fill="#d17693"/>
<rect x="69.48" y="351.74" width="10.78" height="9.12" fill="#ff160c"/>
<rect x="79.96" y="351.74" width="10.78" height="9.12" fill="#f12f36"/>
<rect x="90.43" y="351.74" width="10.78" height="9.12" fill="#ffffff"/>
<rect x="100.91" y="351.74" width="10.78" height="9.12" fill="#eaf2fb"/>
<rect x="111.39" y="351.74" width="10.78" height="9.12" fill="#b6d2f2"/>
<rect x="121.87" y="351.74" width="10.78" height="9.12" fill="#bea7cc"/>
<rect x="132.34" y="351.74" width="10.78" height="9.12" fill="#d17693"/>
<rect x="142.82" y="351.74" width="10.78" height="9.12" fill="#ff160c"/>
<rect x="59" y="360.56" width="10.78" height="9.12" fill="#db5c74"/>
<rect x="69.48" y="360.56" width="10.78" height="9.12" fill="#ff160c"/>
<rect x="79.96" y="360.56" width="10.78" height="9.12" fill="#db5c74"/>
<rect x="90.43" y="360.56" width="10.78" height="9.12" fill="#ffffff"/>
<rect x="100.91" y="360.56" width="10.78" height="9.12" fill="#c1d9f4"/>
<rect x="111.39" y="360.56" width="10.78" height="9.12" fill="#d6e6f8"/>
<rect x="121.87" y="360.56" width="10.78" height="9.12" fill="#f12f36"/>
<rect x="132.34" y="360.56" width="10.78" height="9.12" fill="#ff160c"/>
<rect x="142.82" y="360.56" width="10.78" height="9.12" fill="#f82321"/>
<rect x="59" y="369.38" width="10.78" height="9.12" fill="#ea3d4a"/>
<rect x="69.48" y="369.38" width="10.78" height="9.12" fill="#ff160c"/>
<rect x="79.96" y="369.38" width="10.78" height="9.12" fill="#d17693"/>
<rect x="90.43" y="369.38" width="10.78" height="9.12" fill="#ffffff"/>
<rect x="100.91" y="369.38" width="10.78" height="9.12" fill="#bea7cc"/>
<rect x="111.39" y="369.38" width="10.78" height="9.12" fill="#c1d9f4"/>
<rect x="121.87" y="369.38" width="10.78" height="9.12" fill="#ff160c"/>
<rect x="132.34" y="369.38" width="10.78" height="9.12" fill="#ff160c"/>
<rect x="142.82" y="369.38" width="10.78" height="9.12" fill="#f82321"/>
<rect x="59" y="378.21" width="10.78" height="9.12" fill="#c790b2"/>
<rect x="69.48" y="378.21" width="10.78" height="9.12" fill="#ff160c"/>
<rect x="79.96" y="378.21" width="10.78" height="9.12" fill="#bea7cc"/>
<rect x="90.43" y="378.21" width="10.78" height="9.12" fill="#ffffff"/>
<rect x="100.91" y="378.21" width="10.78" height="9.12" fill="#c1d9f4"/>
<rect x="111.39" y="378.21" width="10.78" height="9.12" fill="#eaf2fb"/>
<rect x="121.87" y="378.21" width="10.78" height="9.12" fill="#f12f36"/>
<rect x="132.34" y="378.21" width="10.78" height="9.12" fill="#ff160c"/>
<rect x="142.82" y="378.21" width="10.78" height="9.12" fill="#ff160c"/>
<rect x="59" y="387.03" width="10.78" height="9.12" fill="#f82321"/>
<rect x="69.48" y="387.03" width="10.78" height="9.12" fill="#ff160c"/>
<rect x="79.96" y="387.03" width="10.78" height="9.12" fill="#f12f36"/>
<rect x="90.43" y="387.03" width="10.78" height="9.12" fill="#ffffff"/>
<rect x="100.91" y="387.03" width="10.78" height="9.12" fill="#b6d2f2"/>
<rect x="111.39" y="387.03" width="10.78" height="9.12" fill="#b6d2f2"/>
<rect x="121.87" y="387.03" width="10.78" height="9.12" fill="#db5c74"/>
<rect x="132.34" y="387.03" width="10.78" height="9.12" fill="#f82321"/>
<rect x="142.82" y="387.03" width="10.78" height="9.12" fill="#ff160c"/>
<rect x="59" y="395.85" width="10.78" height="9.12" fill="#b6d2f2"/>
<rect x="69.48" y="395.85" width="10.78" height="9.12" fill="#ff160c"/>
<rect x="79.96" y="395.85" width="10.78" height="9.12" fill="#e24d5f"/>
<rect x="90.43" y="395.85" width="10.78" height="9.12" fill="#ffffff"/>
<rect x="100.91" y="395.85" width="10.78" height="9.12" fill="#d6e6f8"/>
<rect x="111.39" y="395.85" width="10.78" height="9.12" fill="#f5f9fd"/>
<rect x="121.87" y="395.85" width="10.78" height="9.12" fill="#db5c74"/>
<rect x="132.34" y="395.85" width="10.78" height="9.12" fill="#e24d5f"/>
<rect x="142.82" y="395.85" width="10.78" height="9.12" fill="#ea3d4a"/>
<rect x="59" y="404.68" width="10.78" height="9.12" fill="#bea7cc"/>
<rect x="69.48" y="404.68" width="10.78" height="9.12" fill="#f82321"/>
<rect x="79.96" y="404.68" width="10.78" height="9.12" fill="#ea3d4a"/>
<rect x="90.43" y="404.68" width="10.78" height="9.12" fill="#ffffff"/>
<rect x="100.91" y="404.68" width="10.78" height="9.12" fill="#b6d2f2"/>
<rect x="111.39" y="404.68" width="10.78" height="9.12" fill="#bea7cc"/>
<rect x="121.87" y="404.68" width="10.78" height="9.12" fill="#f12f36"/>
<rect x="132.34" y="404.68" width="10.78" height="9.12" fill="#ff160c"/>
<rect x="142.82" y="404.68" width="10.78" height="9.12" fill="#ff160c"/>
</g>
<path d="M59 272.32H153.3M59 281.15H153.3M59 289.97H153.3M59 298.79H153.3M59 307.62H153.3M59 316.44H153.3M59 325.26H153.3M59 334.09H153.3M59 342.91H153.3M59 351.74H153.3M59 360.56H153.3M59 369.38H153.3M59 378.21H153.3M59 387.03H153.3M59 395.85H153.3M59 404.68H153.3M69.48 263.5V413.5M79.96 263.5V413.5M90.43 263.5V413.5M100.91 263.5V413.5M111.39 263.5V413.5M121.87 263.5V413.5M132.34 263.5V413.5M142.82 263.5V413.5" stroke="#000" stroke-opacity="0.13" stroke-width="0.5" fill="none"/>
<rect x="59" y="263.5" width="94.3" height="150" fill="none" stroke="#555" stroke-width="0.8"/>
<line x1="90.43" y1="263.2" x2="90.43" y2="413.8" stroke="#111" stroke-width="1.3"/>
<line x1="121.87" y1="263.2" x2="121.87" y2="413.8" stroke="#111" stroke-width="1.3"/>
<text x="67.54" y="261.9" font-size="8" transform="rotate(-90 67.54 261.9)">R08024</text>
<text x="78.02" y="261.9" font-size="8" transform="rotate(-90 78.02 261.9)">R09146</text>
<text x="88.49" y="261.9" font-size="8" transform="rotate(-90 88.49 261.9)">R13010</text>
<text x="98.97" y="261.9" font-size="8" transform="rotate(-90 98.97 261.9)">R08024</text>
<text x="109.45" y="261.9" font-size="8" transform="rotate(-90 109.45 261.9)">R09146</text>
<text x="119.93" y="261.9" font-size="8" transform="rotate(-90 119.93 261.9)">R13010</text>
<text x="130.41" y="261.9" font-size="8" transform="rotate(-90 130.41 261.9)">R08024</text>
<text x="140.88" y="261.9" font-size="8" transform="rotate(-90 140.88 261.9)">R09146</text>
<text x="151.36" y="261.9" font-size="8" transform="rotate(-90 151.36 261.9)">R13010</text>
<text x="154.4" y="270.81" font-size="8">Interferon signaling</text>
<text x="154.4" y="279.64" font-size="8">Complement system</text>
<text x="154.4" y="288.46" font-size="8">EM organization</text>
<text x="154.4" y="297.28" font-size="8">Innate immunity</text>
<text x="154.4" y="306.11" font-size="8">Metabolism</text>
<text x="154.4" y="314.93" font-size="8">Wnt signaling</text>
<text x="154.4" y="323.75" font-size="8">Adaptive immunity</text>
<text x="154.4" y="332.58" font-size="8">Apoptosis</text>
<text x="154.4" y="341.4" font-size="8">Cellular stress</text>
<text x="154.4" y="350.22" font-size="8">Cell cycle</text>
<text x="154.4" y="359.05" font-size="8">Death receptor signaling</text>
<text x="154.4" y="367.87" font-size="8">Fc receptor signaling</text>
<text x="154.4" y="376.69" font-size="8">MAPK signaling</text>
<text x="154.4" y="385.52" font-size="8">VEGF signaling</text>
<text x="154.4" y="394.34" font-size="8">NF-kB</text>
<text x="154.4" y="403.16" font-size="8">TLR signaling</text>
<text x="154.4" y="411.99" font-size="8">Interleukin signaling</text>
<line x1="60.7" y1="227.8" x2="88.4" y2="227.8" stroke="#222" stroke-width="0.9"/>
<text x="73.9" y="225.2" font-size="8" text-anchor="middle">Day 0</text>
<line x1="92.2" y1="227.8" x2="119.5" y2="227.8" stroke="#222" stroke-width="0.9"/>
<text x="104.6" y="225.2" font-size="8" text-anchor="middle">Day 2</text>
<line x1="124.5" y1="227.8" x2="151.8" y2="227.8" stroke="#222" stroke-width="0.9"/>
<text x="136.8" y="225.2" font-size="8" text-anchor="middle">Day 7</text>
<text x="155.6" y="225.2" font-size="8">post prime</text>
<defs><linearGradient id="gb" x1="0" x2="1" y1="0" y2="0"><stop offset="0" stop-color="#ffffff"/><stop offset="0.5" stop-color="#acccf0"/><stop offset="0.62" stop-color="#c1a0c5"/><stop offset="0.75" stop-color="#db5c74"/><stop offset="0.88" stop-color="#ee343e"/><stop offset="1" stop-color="#ff160c"/></linearGradient></defs>
<rect x="58.5" y="416.2" width="116.5" height="9" fill="url(#gb)" stroke="#333" stroke-width="0.8"/>
<text x="25.8" y="422.7" font-size="7.9">row min</text>
<text x="179.3" y="422.7" font-size="7.9">row max</text>
<path d="M42.8 285.56L42.8 294.38M42.8 285.56L59 285.56M42.8 294.38L59 294.38M27.4 276.74L27.4 289.97M27.4 276.74L59 276.74M27.4 289.97L42.8 289.97M35.7 303.21L35.7 312.03M35.7 303.21L59 303.21M35.7 312.03L59 312.03M22 285.35L22 307.62M22 285.35L27.4 285.35M22 307.62L35.7 307.62M16.2 267.91L16.2 299.49M16.2 267.91L59 267.91M16.2 299.49L22 299.49M50.3 329.68L50.3 338.5M50.3 329.68L59 329.68M50.3 338.5L59 338.5M47.9 347.32L47.9 356.15M47.9 347.32L59 347.32M47.9 356.15L59 356.15M46.5 334.09L46.5 351.74M46.5 334.09L50.3 334.09M46.5 351.74L47.9 351.74M51.4 364.97L51.4 373.79M51.4 364.97L59 364.97M51.4 373.79L59 373.79M48.6 369.38L48.6 382.62M48.6 369.38L51.4 369.38M48.6 382.62L59 382.62M45.4 376L45.4 391.44M45.4 376L48.6 376M45.4 391.44L59 391.44M41.2 383.72L41.2 400.26M41.2 383.72L45.4 383.72M41.2 400.26L59 400.26M39.5 342.8L39.5 382.9M39.5 342.8L46.5 342.8M39.5 382.9L41.2 382.9M31.2 365.1L31.2 409.09M31.2 365.1L39.5 365.1M31.2 409.09L59 409.09M20.4 320.85L20.4 369.5M20.4 320.85L59 320.85M20.4 369.5L31.2 369.5M7.6 289.7L7.6 365.6M7.6 289.7L16.2 289.7M7.6 365.6L20.4 365.6" stroke="#111" stroke-width="1" fill="none" stroke-linecap="square"/>
<text x="280.8" y="226.6" font-size="14">d</text>
<g shape-rendering="crispEdges">
<rect x="334.5" y="260.4" width="11.06" height="9.3" fill="#f5f9fd"/>
<rect x="345.26" y="260.4" width="11.06" height="9.3" fill="#b6d2f2"/>
<rect x="356.01" y="260.4" width="11.06" height="9.3" fill="#e0ecf9"/>
<rect x="366.77" y="260.4" width="11.06" height="9.3" fill="#d6e6f8"/>
<rect x="377.52" y="260.4" width="11.06" height="9.3" fill="#b8b2d7"/>
<rect x="388.28" y="260.4" width="11.06" height="9.3" fill="#d6e6f8"/>
<rect x="399.03" y="260.4" width="11.06" height="9.3" fill="#d17693"/>
<rect x="409.79" y="260.4" width="11.06" height="9.3" fill="#cb86a6"/>
<rect x="420.54" y="260.4" width="11.06" height="9.3" fill="#ea3d4a"/>
<rect x="431.3" y="260.4" width="11.06" height="9.3" fill="#f12f36"/>
<rect x="442.06" y="260.4" width="11.06" height="9.3" fill="#f12f36"/>
<rect x="452.81" y="260.4" width="11.06" height="9.3" fill="#ff160c"/>
<rect x="463.57" y="260.4" width="11.06" height="9.3" fill="#ffffff"/>
<rect x="474.32" y="260.4" width="11.06" height="9.3" fill="#d6e6f8"/>
<rect x="485.08" y="260.4" width="11.06" height="9.3" fill="#f5f9fd"/>
<rect x="495.83" y="260.4" width="11.06" height="9.3" fill="#e0ecf9"/>
<rect x="506.59" y="260.4" width="11.06" height="9.3" fill="#e0ecf9"/>
<rect x="517.34" y="260.4" width="11.06" height="9.3" fill="#d6e6f8"/>
<rect x="334.5" y="269.4" width="11.06" height="9.3" fill="#f9fbfe"/>
<rect x="345.26" y="269.4" width="11.06" height="9.3" fill="#c1d9f4"/>
<rect x="356.01" y="269.4" width="11.06" height="9.3" fill="#b2d0f1"/>
<rect x="366.77" y="269.4" width="11.06" height="9.3" fill="#c39bbf"/>
<rect x="377.52" y="269.4" width="11.06" height="9.3" fill="#baafd3"/>
<rect x="388.28" y="269.4" width="11.06" height="9.3" fill="#fb1e19"/>
<rect x="399.03" y="269.4" width="11.06" height="9.3" fill="#c1d9f4"/>
<rect x="409.79" y="269.4" width="11.06" height="9.3" fill="#b0cff1"/>
<rect x="420.54" y="269.4" width="11.06" height="9.3" fill="#bea7cc"/>
<rect x="431.3" y="269.4" width="11.06" height="9.3" fill="#e24d5f"/>
<rect x="442.06" y="269.4" width="11.06" height="9.3" fill="#e24d5f"/>
<rect x="452.81" y="269.4" width="11.06" height="9.3" fill="#ff160c"/>
<rect x="463.57" y="269.4" width="11.06" height="9.3" fill="#ffffff"/>
<rect x="474.32" y="269.4" width="11.06" height="9.3" fill="#d6e6f8"/>
<rect x="485.08" y="269.4" width="11.06" height="9.3" fill="#c1d9f4"/>
<rect x="495.83" y="269.4" width="11.06" height="9.3" fill="#b1c1e5"/>
<rect x="506.59" y="269.4" width="11.06" height="9.3" fill="#bbd5f3"/>
<rect x="517.34" y="269.4" width="11.06" height="9.3" fill="#e24d5f"/>
<rect x="334.5" y="278.4" width="11.06" height="9.3" fill="#eaf2fb"/>
<rect x="345.26" y="278.4" width="11.06" height="9.3" fill="#b0c5e9"/>
<rect x="356.01" y="278.4" width="11.06" height="9.3" fill="#b6b6db"/>
<rect x="366.77" y="278.4" width="11.06" height="9.3" fill="#cd81a0"/>
<rect x="377.52" y="278.4" width="11.06" height="9.3" fill="#ea3d4a"/>
<rect x="388.28" y="278.4" width="11.06" height="9.3" fill="#ff160c"/>
<rect x="399.03" y="278.4" width="11.06" height="9.3" fill="#c1d9f4"/>
<rect x="409.79" y="278.4" width="11.06" height="9.3" fill="#b1c1e5"/>
<rect x="420.54" y="278.4" width="11.06" height="9.3" fill="#b6b6db"/>
<rect x="431.3" y="278.4" width="11.06" height="9.3" fill="#d17693"/>
<rect x="442.06" y="278.4" width="11.06" height="9.3" fill="#ea3d4a"/>
<rect x="452.81" y="278.4" width="11.06" height="9.3" fill="#ff160c"/>
<rect x="463.57" y="278.4" width="11.06" height="9.3" fill="#ffffff"/>
<rect x="474.32" y="278.4" width="11.06" height="9.3" fill="#d1e3f7"/>
<rect x="485.08" y="278.4" width="11.06" height="9.3" fill="#cbdff6"/>
<rect x="495.83" y="278.4" width="11.06" height="9.3" fill="#baafd3"/>
<rect x="506.59" y="278.4" width="11.06" height="9.3" fill="#b6d2f2"/>
<rect x="517.34" y="278.4" width="11.06" height="9.3" fill="#ea3d4a"/>
<rect x="334.5" y="287.4" width="11.06" height="9.3" fill="#ffffff"/>
<rect x="345.26" y="287.4" width="11.06" height="9.3" fill="#d6e6f8"/>
<rect x="356.01" y="287.4" width="11.06" height="9.3" fill="#cbdff6"/>
<rect x="366.77" y="287.4" width="11.06" height="9.3" fill="#c1d9f4"/>
<rect x="377.52" y="287.4" width="11.06" height="9.3" fill="#b0cff1"/>
<rect x="388.28" y="287.4" width="11.06" height="9.3" fill="#d17693"/>
<rect x="399.03" y="287.4" width="11.06" height="9.3" fill="#c1d9f4"/>
<rect x="409.79" y="287.4" width="11.06" height="9.3" fill="#c1d9f4"/>
<rect x="420.54" y="287.4" width="11.06" height="9.3" fill="#bea7cc"/>
<rect x="431.3" y="287.4" width="11.06" height="9.3" fill="#db5c74"/>
<rect x="442.06" y="287.4" width="11.06" height="9.3" fill="#c1a0c5"/>
<rect x="452.81" y="287.4" width="11.06" height="9.3" fill="#ff160c"/>
<rect x="463.57" y="287.4" width="11.06" height="9.3" fill="#ffffff"/>
<rect x="474.32" y="287.4" width="11.06" height="9.3" fill="#f5f9fd"/>
<rect x="485.08" y="287.4" width="11.06" height="9.3" fill="#e0ecf9"/>
<rect x="495.83" y="287.4" width="11.06" height="9.3" fill="#bbd5f3"/>
<rect x="506.59" y="287.4" width="11.06" height="9.3" fill="#cfe2f6"/>
<rect x="517.34" y="287.4" width="11.06" height="9.3" fill="#e0ecf9"/>
<rect x="334.5" y="296.4" width="11.06" height="9.3" fill="#f5f9fd"/>
<rect x="345.26" y="296.4" width="11.06" height="9.3" fill="#c1d9f4"/>
<rect x="356.01" y="296.4" width="11.06" height="9.3" fill="#c1d9f4"/>
<rect x="366.77" y="296.4" width="11.06" height="9.3" fill="#b2d0f1"/>
<rect x="377.52" y="296.4" width="11.06" height="9.3" fill="#baafd3"/>
<rect x="388.28" y="296.4" width="11.06" height="9.3" fill="#d56c87"/>
<rect x="399.03" y="296.4" width="11.06" height="9.3" fill="#bdd6f3"/>
<rect x="409.79" y="296.4" width="11.06" height="9.3" fill="#b6d2f2"/>
<rect x="420.54" y="296.4" width="11.06" height="9.3" fill="#bea7cc"/>
<rect x="431.3" y="296.4" width="11.06" height="9.3" fill="#e54657"/>
<rect x="442.06" y="296.4" width="11.06" height="9.3" fill="#ea3d4a"/>
<rect x="452.81" y="296.4" width="11.06" height="9.3" fill="#ff160c"/>
<rect x="463.57" y="296.4" width="11.06" height="9.3" fill="#ffffff"/>
<rect x="474.32" y="296.4" width="11.06" height="9.3" fill="#e6f0fa"/>
<rect x="485.08" y="296.4" width="11.06" height="9.3" fill="#dae8f8"/>
<rect x="495.83" y="296.4" width="11.06" height="9.3" fill="#b6d2f2"/>
<rect x="506.59" y="296.4" width="11.06" height="9.3" fill="#c1d9f4"/>
<rect x="517.34" y="296.4" width="11.06" height="9.3" fill="#b6b6db"/>
<rect x="334.5" y="305.4" width="11.06" height="9.3" fill="#f0f6fc"/>
<rect x="345.26" y="305.4" width="11.06" height="9.3" fill="#d6e6f8"/>
<rect x="356.01" y="305.4" width="11.06" height="9.3" fill="#c1d9f4"/>
<rect x="366.77" y="305.4" width="11.06" height="9.3" fill="#b2d0f1"/>
<rect x="377.52" y="305.4" width="11.06" height="9.3" fill="#bea7cc"/>
<rect x="388.28" y="305.4" width="11.06" height="9.3" fill="#e54657"/>
<rect x="399.03" y="305.4" width="11.06" height="9.3" fill="#c1d9f4"/>
<rect x="409.79" y="305.4" width="11.06" height="9.3" fill="#cbdff6"/>
<rect x="420.54" y="305.4" width="11.06" height="9.3" fill="#acccf0"/>
<rect x="431.3" y="305.4" width="11.06" height="9.3" fill="#e54657"/>
<rect x="442.06" y="305.4" width="11.06" height="9.3" fill="#f12f36"/>
<rect x="452.81" y="305.4" width="11.06" height="9.3" fill="#ff160c"/>
<rect x="463.57" y="305.4" width="11.06" height="9.3" fill="#ffffff"/>
<rect x="474.32" y="305.4" width="11.06" height="9.3" fill="#f5f9fd"/>
<rect x="485.08" y="305.4" width="11.06" height="9.3" fill="#e0ecf9"/>
<rect x="495.83" y="305.4" width="11.06" height="9.3" fill="#b4d1f2"/>
<rect x="506.59" y="305.4" width="11.06" height="9.3" fill="#c1d9f4"/>
<rect x="517.34" y="305.4" width="11.06" height="9.3" fill="#b5bade"/>
<rect x="334.5" y="314.4" width="11.06" height="9.3" fill="#fbfcfe"/>
<rect x="345.26" y="314.4" width="11.06" height="9.3" fill="#b6d2f2"/>
<rect x="356.01" y="314.4" width="11.06" height="9.3" fill="#cbdff6"/>
<rect x="366.77" y="314.4" width="11.06" height="9.3" fill="#c5dbf4"/>
<rect x="377.52" y="314.4" width="11.06" height="9.3" fill="#b3bde2"/>
<rect x="388.28" y="314.4" width="11.06" height="9.3" fill="#b0c5e9"/>
<rect x="399.03" y="314.4" width="11.06" height="9.3" fill="#b1c1e5"/>
<rect x="409.79" y="314.4" width="11.06" height="9.3" fill="#c39bbf"/>
<rect x="420.54" y="314.4" width="11.06" height="9.3" fill="#e24d5f"/>
<rect x="431.3" y="314.4" width="11.06" height="9.3" fill="#ea3d4a"/>
<rect x="442.06" y="314.4" width="11.06" height="9.3" fill="#ee343e"/>
<rect x="452.81" y="314.4" width="11.06" height="9.3" fill="#ff160c"/>
<rect x="463.57" y="314.4" width="11.06" height="9.3" fill="#ffffff"/>
<rect x="474.32" y="314.4" width="11.06" height="9.3" fill="#d6e6f8"/>
<rect x="485.08" y="314.4" width="11.06" height="9.3" fill="#dae8f8"/>
<rect x="495.83" y="314.4" width="11.06" height="9.3" fill="#cbdff6"/>
<rect x="506.59" y="314.4" width="11.06" height="9.3" fill="#d6e6f8"/>
<rect x="517.34" y="314.4" width="11.06" height="9.3" fill="#b4d1f2"/>
<rect x="334.5" y="323.4" width="11.06" height="9.3" fill="#eaf2fb"/>
<rect x="345.26" y="323.4" width="11.06" height="9.3" fill="#b5bade"/>
<rect x="356.01" y="323.4" width="11.06" height="9.3" fill="#c1d9f4"/>
<rect x="366.77" y="323.4" width="11.06" height="9.3" fill="#b3bde2"/>
<rect x="377.52" y="323.4" width="11.06" height="9.3" fill="#d76680"/>
<rect x="388.28" y="323.4" width="11.06" height="9.3" fill="#e74353"/>
<rect x="399.03" y="323.4" width="11.06" height="9.3" fill="#b2d0f1"/>
<rect x="409.79" y="323.4" width="11.06" height="9.3" fill="#cd81a0"/>
<rect x="420.54" y="323.4" width="11.06" height="9.3" fill="#d17693"/>
<rect x="431.3" y="323.4" width="11.06" height="9.3" fill="#e74353"/>
<rect x="442.06" y="323.4" width="11.06" height="9.3" fill="#e74353"/>
<rect x="452.81" y="323.4" width="11.06" height="9.3" fill="#ff160c"/>
<rect x="463.57" y="323.4" width="11.06" height="9.3" fill="#ffffff"/>
<rect x="474.32" y="323.4" width="11.06" height="9.3" fill="#d1e3f7"/>
<rect x="485.08" y="323.4" width="11.06" height="9.3" fill="#cbdff6"/>
<rect x="495.83" y="323.4" width="11.06" height="9.3" fill="#bbd5f3"/>
<rect x="506.59" y="323.4" width="11.06" height="9.3" fill="#c1d9f4"/>
<rect x="517.34" y="323.4" width="11.06" height="9.3" fill="#baafd3"/>
<rect x="334.5" y="332.4" width="11.06" height="9.3" fill="#d6e6f8"/>
<rect x="345.26" y="332.4" width="11.06" height="9.3" fill="#b3bde2"/>
<rect x="356.01" y="332.4" width="11.06" height="9.3" fill="#c5dbf4"/>
<rect x="366.77" y="332.4" width="11.06" height="9.3" fill="#bea7cc"/>
<rect x="377.52" y="332.4" width="11.06" height="9.3" fill="#df5368"/>
<rect x="388.28" y="332.4" width="11.06" height="9.3" fill="#ff160c"/>
<rect x="399.03" y="332.4" width="11.06" height="9.3" fill="#e0ecf9"/>
<rect x="409.79" y="332.4" width="11.06" height="9.3" fill="#b0cff1"/>
<rect x="420.54" y="332.4" width="11.06" height="9.3" fill="#e0ecf9"/>
<rect x="431.3" y="332.4" width="11.06" height="9.3" fill="#bea7cc"/>
<rect x="442.06" y="332.4" width="11.06" height="9.3" fill="#db5c74"/>
<rect x="452.81" y="332.4" width="11.06" height="9.3" fill="#fc1b14"/>
<rect x="463.57" y="332.4" width="11.06" height="9.3" fill="#ffffff"/>
<rect x="474.32" y="332.4" width="11.06" height="9.3" fill="#dae8f8"/>
<rect x="485.08" y="332.4" width="11.06" height="9.3" fill="#e6f0fa"/>
<rect x="495.83" y="332.4" width="11.06" height="9.3" fill="#bdd6f3"/>
<rect x="506.59" y="332.4" width="11.06" height="9.3" fill="#d1e3f7"/>
<rect x="517.34" y="332.4" width="11.06" height="9.3" fill="#b5bade"/>
<rect x="334.5" y="341.4" width="11.06" height="9.3" fill="#f5f9fd"/>
<rect x="345.26" y="341.4" width="11.06" height="9.3" fill="#c1d9f4"/>
<rect x="356.01" y="341.4" width="11.06" height="9.3" fill="#b1c1e5"/>
<rect x="366.77" y="341.4" width="11.06" height="9.3" fill="#c790b2"/>
<rect x="377.52" y="341.4" width="11.06" height="9.3" fill="#cd81a0"/>
<rect x="388.28" y="341.4" width="11.06" height="9.3" fill="#ff160c"/>
<rect x="399.03" y="341.4" width="11.06" height="9.3" fill="#d6e6f8"/>
<rect x="409.79" y="341.4" width="11.06" height="9.3" fill="#b2d0f1"/>
<rect x="420.54" y="341.4" width="11.06" height="9.3" fill="#bbd5f3"/>
<rect x="431.3" y="341.4" width="11.06" height="9.3" fill="#b6b6db"/>
<rect x="442.06" y="341.4" width="11.06" height="9.3" fill="#db5c74"/>
<rect x="452.81" y="341.4" width="11.06" height="9.3" fill="#ee343e"/>
<rect x="463.57" y="341.4" width="11.06" height="9.3" fill="#ffffff"/>
<rect x="474.32" y="341.4" width="11.06" height="9.3" fill="#e0ecf9"/>
<rect x="485.08" y="341.4" width="11.06" height="9.3" fill="#d6e6f8"/>
<rect x="495.83" y="341.4" width="11.06" height="9.3" fill="#b3bde2"/>
<rect x="506.59" y="341.4" width="11.06" height="9.3" fill="#d6e6f8"/>
<rect x="517.34" y="341.4" width="11.06" height="9.3" fill="#f12f36"/>
<rect x="334.5" y="350.4" width="11.06" height="9.3" fill="#eaf2fb"/>
<rect x="345.26" y="350.4" width="11.06" height="9.3" fill="#c1d9f4"/>
<rect x="356.01" y="350.4" width="11.06" height="9.3" fill="#b3bde2"/>
<rect x="366.77" y="350.4" width="11.06" height="9.3" fill="#c790b2"/>
<rect x="377.52" y="350.4" width="11.06" height="9.3" fill="#f12f36"/>
<rect x="388.28" y="350.4" width="11.06" height="9.3" fill="#ff160c"/>
<rect x="399.03" y="350.4" width="11.06" height="9.3" fill="#d6e6f8"/>
<rect x="409.79" y="350.4" width="11.06" height="9.3" fill="#cbdff6"/>
<rect x="420.54" y="350.4" width="11.06" height="9.3" fill="#c1d9f4"/>
<rect x="431.3" y="350.4" width="11.06" height="9.3" fill="#c1a0c5"/>
<rect x="442.06" y="350.4" width="11.06" height="9.3" fill="#cd81a0"/>
<rect x="452.81" y="350.4" width="11.06" height="9.3" fill="#fb1e19"/>
<rect x="463.57" y="350.4" width="11.06" height="9.3" fill="#ffffff"/>
<rect x="474.32" y="350.4" width="11.06" height="9.3" fill="#eef5fc"/>
<rect x="485.08" y="350.4" width="11.06" height="9.3" fill="#b6d2f2"/>
<rect x="495.83" y="350.4" width="11.06" height="9.3" fill="#d76680"/>
<rect x="506.59" y="350.4" width="11.06" height="9.3" fill="#b3bde2"/>
<rect x="517.34" y="350.4" width="11.06" height="9.3" fill="#fb1e19"/>
<rect x="334.5" y="359.4" width="11.06" height="9.3" fill="#f0f6fc"/>
<rect x="345.26" y="359.4" width="11.06" height="9.3" fill="#b0cff1"/>
<rect x="356.01" y="359.4" width="11.06" height="9.3" fill="#bea7cc"/>
<rect x="366.77" y="359.4" width="11.06" height="9.3" fill="#cd81a0"/>
<rect x="377.52" y="359.4" width="11.06" height="9.3" fill="#ee343e"/>
<rect x="388.28" y="359.4" width="11.06" height="9.3" fill="#f52729"/>
<rect x="399.03" y="359.4" width="11.06" height="9.3" fill="#bdd6f3"/>
<rect x="409.79" y="359.4" width="11.06" height="9.3" fill="#b0cff1"/>
<rect x="420.54" y="359.4" width="11.06" height="9.3" fill="#d17693"/>
<rect x="431.3" y="359.4" width="11.06" height="9.3" fill="#e24d5f"/>
<rect x="442.06" y="359.4" width="11.06" height="9.3" fill="#f42a2d"/>
<rect x="452.81" y="359.4" width="11.06" height="9.3" fill="#ff160c"/>
<rect x="463.57" y="359.4" width="11.06" height="9.3" fill="#ffffff"/>
<rect x="474.32" y="359.4" width="11.06" height="9.3" fill="#e0ecf9"/>
<rect x="485.08" y="359.4" width="11.06" height="9.3" fill="#bbd5f3"/>
<rect x="495.83" y="359.4" width="11.06" height="9.3" fill="#cd81a0"/>
<rect x="506.59" y="359.4" width="11.06" height="9.3" fill="#bea7cc"/>
<rect x="517.34" y="359.4" width="11.06" height="9.3" fill="#f12f36"/>
<rect x="334.5" y="368.4" width="11.06" height="9.3" fill="#f0f6fc"/>
<rect x="345.26" y="368.4" width="11.06" height="9.3" fill="#d1e3f7"/>
<rect x="356.01" y="368.4" width="11.06" height="9.3" fill="#b0cff1"/>
<rect x="366.77" y="368.4" width="11.06" height="9.3" fill="#baafd3"/>
<rect x="377.52" y="368.4" width="11.06" height="9.3" fill="#d17693"/>
<rect x="388.28" y="368.4" width="11.06" height="9.3" fill="#ff160c"/>
<rect x="399.03" y="368.4" width="11.06" height="9.3" fill="#d6e6f8"/>
<rect x="409.79" y="368.4" width="11.06" height="9.3" fill="#c5dbf4"/>
<rect x="420.54" y="368.4" width="11.06" height="9.3" fill="#b6d2f2"/>
<rect x="431.3" y="368.4" width="11.06" height="9.3" fill="#b6b6db"/>
<rect x="442.06" y="368.4" width="11.06" height="9.3" fill="#e24d5f"/>
<rect x="452.81" y="368.4" width="11.06" height="9.3" fill="#fb1e19"/>
<rect x="463.57" y="368.4" width="11.06" height="9.3" fill="#ffffff"/>
<rect x="474.32" y="368.4" width="11.06" height="9.3" fill="#eaf2fb"/>
<rect x="485.08" y="368.4" width="11.06" height="9.3" fill="#d6e6f8"/>
<rect x="495.83" y="368.4" width="11.06" height="9.3" fill="#b6b6db"/>
<rect x="506.59" y="368.4" width="11.06" height="9.3" fill="#b6d2f2"/>
<rect x="517.34" y="368.4" width="11.06" height="9.3" fill="#f52729"/>
<rect x="334.5" y="377.4" width="11.06" height="9.3" fill="#f0f6fc"/>
<rect x="345.26" y="377.4" width="11.06" height="9.3" fill="#c5dbf4"/>
<rect x="356.01" y="377.4" width="11.06" height="9.3" fill="#b3bde2"/>
<rect x="366.77" y="377.4" width="11.06" height="9.3" fill="#c1a0c5"/>
<rect x="377.52" y="377.4" width="11.06" height="9.3" fill="#db5c74"/>
<rect x="388.28" y="377.4" width="11.06" height="9.3" fill="#ff160c"/>
<rect x="399.03" y="377.4" width="11.06" height="9.3" fill="#c5dbf4"/>
<rect x="409.79" y="377.4" width="11.06" height="9.3" fill="#b6d2f2"/>
<rect x="420.54" y="377.4" width="11.06" height="9.3" fill="#b0cff1"/>
<rect x="431.3" y="377.4" width="11.06" height="9.3" fill="#cd81a0"/>
<rect x="442.06" y="377.4" width="11.06" height="9.3" fill="#e74353"/>
<rect x="452.81" y="377.4" width="11.06" height="9.3" fill="#fc1b14"/>
<rect x="463.57" y="377.4" width="11.06" height="9.3" fill="#ffffff"/>
<rect x="474.32" y="377.4" width="11.06" height="9.3" fill="#eef5fc"/>
<rect x="485.08" y="377.4" width="11.06" height="9.3" fill="#d6e6f8"/>
<rect x="495.83" y="377.4" width="11.06" height="9.3" fill="#bea7cc"/>
<rect x="506.59" y="377.4" width="11.06" height="9.3" fill="#c1d9f4"/>
<rect x="517.34" y="377.4" width="11.06" height="9.3" fill="#ee343e"/>
<rect x="334.5" y="386.4" width="11.06" height="9.3" fill="#f9fbfe"/>
<rect x="345.26" y="386.4" width="11.06" height="9.3" fill="#c5dbf4"/>
<rect x="356.01" y="386.4" width="11.06" height="9.3" fill="#baafd3"/>
<rect x="366.77" y="386.4" width="11.06" height="9.3" fill="#c39bbf"/>
<rect x="377.52" y="386.4" width="11.06" height="9.3" fill="#d56c87"/>
<rect x="388.28" y="386.4" width="11.06" height="9.3" fill="#fc1b14"/>
<rect x="399.03" y="386.4" width="11.06" height="9.3" fill="#cbdff6"/>
<rect x="409.79" y="386.4" width="11.06" height="9.3" fill="#b0cff1"/>
<rect x="420.54" y="386.4" width="11.06" height="9.3" fill="#baafd3"/>
<rect x="431.3" y="386.4" width="11.06" height="9.3" fill="#d56c87"/>
<rect x="442.06" y="386.4" width="11.06" height="9.3" fill="#e74353"/>
<rect x="452.81" y="386.4" width="11.06" height="9.3" fill="#fc1b14"/>
<rect x="463.57" y="386.4" width="11.06" height="9.3" fill="#ffffff"/>
<rect x="474.32" y="386.4" width="11.06" height="9.3" fill="#eef5fc"/>
<rect x="485.08" y="386.4" width="11.06" height="9.3" fill="#d1e3f7"/>
<rect x="495.83" y="386.4" width="11.06" height="9.3" fill="#bea7cc"/>
<rect x="506.59" y="386.4" width="11.06" height="9.3" fill="#c1d9f4"/>
<rect x="517.34" y="386.4" width="11.06" height="9.3" fill="#e24d5f"/>
<rect x="334.5" y="395.4" width="11.06" height="9.3" fill="#ffffff"/>
<rect x="345.26" y="395.4" width="11.06" height="9.3" fill="#b6d2f2"/>
<rect x="356.01" y="395.4" width="11.06" height="9.3" fill="#baafd3"/>
<rect x="366.77" y="395.4" width="11.06" height="9.3" fill="#c1a0c5"/>
<rect x="377.52" y="395.4" width="11.06" height="9.3" fill="#ee343e"/>
<rect x="388.28" y="395.4" width="11.06" height="9.3" fill="#ff160c"/>
<rect x="399.03" y="395.4" width="11.06" height="9.3" fill="#e6f0fa"/>
<rect x="409.79" y="395.4" width="11.06" height="9.3" fill="#b6d2f2"/>
<rect x="420.54" y="395.4" width="11.06" height="9.3" fill="#c1d9f4"/>
<rect x="431.3" y="395.4" width="11.06" height="9.3" fill="#cd81a0"/>
<rect x="442.06" y="395.4" width="11.06" height="9.3" fill="#e24d5f"/>
<rect x="452.81" y="395.4" width="11.06" height="9.3" fill="#fb1e19"/>
<rect x="463.57" y="395.4" width="11.06" height="9.3" fill="#ffffff"/>
<rect x="474.32" y="395.4" width="11.06" height="9.3" fill="#eef5fc"/>
<rect x="485.08" y="395.4" width="11.06" height="9.3" fill="#d6e6f8"/>
<rect x="495.83" y="395.4" width="11.06" height="9.3" fill="#b4d1f2"/>
<rect x="506.59" y="395.4" width="11.06" height="9.3" fill="#b4d1f2"/>
<rect x="517.34" y="395.4" width="11.06" height="9.3" fill="#ee343e"/>
<rect x="334.5" y="404.4" width="11.06" height="9.3" fill="#ffffff"/>
<rect x="345.26" y="404.4" width="11.06" height="9.3" fill="#baafd3"/>
<rect x="356.01" y="404.4" width="11.06" height="9.3" fill="#d17693"/>
<rect x="366.77" y="404.4" width="11.06" height="9.3" fill="#d56c87"/>
<rect x="377.52" y="404.4" width="11.06" height="9.3" fill="#e24d5f"/>
<rect x="388.28" y="404.4" width="11.06" height="9.3" fill="#ff160c"/>
<rect x="399.03" y="404.4" width="11.06" height="9.3" fill="#c1d9f4"/>
<rect x="409.79" y="404.4" width="11.06" height="9.3" fill="#c790b2"/>
<rect x="420.54" y="404.4" width="11.06" height="9.3" fill="#d76680"/>
<rect x="431.3" y="404.4" width="11.06" height="9.3" fill="#e24d5f"/>
<rect x="442.06" y="404.4" width="11.06" height="9.3" fill="#f12f36"/>
<rect x="452.81" y="404.4" width="11.06" height="9.3" fill="#ff160c"/>
<rect x="463.57" y="404.4" width="11.06" height="9.3" fill="#ffffff"/>
<rect x="474.32" y="404.4" width="11.06" height="9.3" fill="#cbdff6"/>
<rect x="485.08" y="404.4" width="11.06" height="9.3" fill="#bbd5f3"/>
<rect x="495.83" y="404.4" width="11.06" height="9.3" fill="#cd81a0"/>
<rect x="506.59" y="404.4" width="11.06" height="9.3" fill="#c1d9f4"/>
<rect x="517.34" y="404.4" width="11.06" height="9.3" fill="#f12f36"/>
</g>
<path d="M334.5 269.4H528.1M334.5 278.4H528.1M334.5 287.4H528.1M334.5 296.4H528.1M334.5 305.4H528.1M334.5 314.4H528.1M334.5 323.4H528.1M334.5 332.4H528.1M334.5 341.4H528.1M334.5 350.4H528.1M334.5 359.4H528.1M334.5 368.4H528.1M334.5 377.4H528.1M334.5 386.4H528.1M334.5 395.4H528.1M334.5 404.4H528.1M345.26 260.4V413.4M356.01 260.4V413.4M366.77 260.4V413.4M377.52 260.4V413.4M388.28 260.4V413.4M399.03 260.4V413.4M409.79 260.4V413.4M420.54 260.4V413.4M431.3 260.4V413.4M442.06 260.4V413.4M452.81 260.4V413.4M463.57 260.4V413.4M474.32 260.4V413.4M485.08 260.4V413.4M495.83 260.4V413.4M506.59 260.4V413.4M517.34 260.4V413.4" stroke="#000" stroke-opacity="0.13" stroke-width="0.5" fill="none"/>
<rect x="334.5" y="260.4" width="193.6" height="153" fill="none" stroke="#555" stroke-width="0.8"/>
<line x1="399.03" y1="260.1" x2="399.03" y2="413.7" stroke="#111" stroke-width="1.3"/>
<line x1="463.57" y1="260.1" x2="463.57" y2="413.7" stroke="#111" stroke-width="1.3"/>
<text x="342.78" y="258.4" font-size="8" transform="rotate(-90 342.78 258.4)">R08024</text>
<text x="353.53" y="258.4" font-size="8" transform="rotate(-90 353.53 258.4)">R09146</text>
<text x="364.29" y="258.4" font-size="8" transform="rotate(-90 364.29 258.4)">R13010</text>
<text x="375.04" y="258.4" font-size="8" transform="rotate(-90 375.04 258.4)">R13151</text>
<text x="385.8" y="258.4" font-size="8" transform="rotate(-90 385.8 258.4)">R14166</text>
<text x="396.56" y="258.4" font-size="8" transform="rotate(-90 396.56 258.4)">R10128</text>
<text x="407.31" y="258.4" font-size="8" transform="rotate(-90 407.31 258.4)">R08024</text>
<text x="418.07" y="258.4" font-size="8" transform="rotate(-90 418.07 258.4)">R09146</text>
<text x="428.82" y="258.4" font-size="8" transform="rotate(-90 428.82 258.4)">R13010</text>
<text x="439.58" y="258.4" font-size="8" transform="rotate(-90 439.58 258.4)">R13151</text>
<text x="450.33" y="258.4" font-size="8" transform="rotate(-90 450.33 258.4)">R14166</text>
<text x="461.09" y="258.4" font-size="8" transform="rotate(-90 461.09 258.4)">R10128</text>
<text x="471.84" y="258.4" font-size="8" transform="rotate(-90 471.84 258.4)">R08024</text>
<text x="482.6" y="258.4" font-size="8" transform="rotate(-90 482.6 258.4)">R09146</text>
<text x="493.36" y="258.4" font-size="8" transform="rotate(-90 493.36 258.4)">R13010</text>
<text x="504.11" y="258.4" font-size="8" transform="rotate(-90 504.11 258.4)">R13151</text>
<text x="514.87" y="258.4" font-size="8" transform="rotate(-90 514.87 258.4)">R14166</text>
<text x="525.62" y="258.4" font-size="8" transform="rotate(-90 525.62 258.4)">R10128</text>
<text x="529.1" y="267.3" font-size="8">Interferon signaling</text>
<text x="529.1" y="276.3" font-size="8">Adaptive immunity</text>
<text x="529.1" y="285.3" font-size="8">Interleukin signaling</text>
<text x="529.1" y="294.3" font-size="8">Death receptor signaling</text>
<text x="529.1" y="303.3" font-size="8">Cell cycle</text>
<text x="529.1" y="312.3" font-size="8">Wnt signaling</text>
<text x="529.1" y="321.3" font-size="8">Innate immunity</text>
<text x="529.1" y="330.3" font-size="8">NF-kB</text>
<text x="529.1" y="339.3" font-size="8">Complement system</text>
<text x="529.1" y="348.3" font-size="8">Cellular stress</text>
<text x="529.1" y="357.3" font-size="8">EM organization</text>
<text x="529.1" y="366.3" font-size="8">Apoptosis</text>
<text x="529.1" y="375.3" font-size="8">Fc receptor signaling</text>
<text x="529.1" y="384.3" font-size="8">MAPK signaling</text>
<text x="529.1" y="393.3" font-size="8">VEGF signaling</text>
<text x="529.1" y="402.3" font-size="8">Metabolism</text>
<text x="529.1" y="411.3" font-size="8">TLR signaling</text>
<line x1="339.2" y1="226.3" x2="395.9" y2="226.3" stroke="#222" stroke-width="0.9"/>
<text x="363.8" y="224.8" font-size="8" text-anchor="middle">Day 0</text>
<line x1="402.9" y1="226.3" x2="459.7" y2="226.3" stroke="#222" stroke-width="0.9"/>
<text x="431.2" y="224.8" font-size="8" text-anchor="middle">Day 2</text>
<line x1="469.2" y1="226.3" x2="527.6" y2="226.3" stroke="#222" stroke-width="0.9"/>
<text x="497.8" y="222.8" font-size="8" text-anchor="middle">Day 7</text>
<text x="531.6" y="224.4" font-size="8">post boost</text>
<defs><linearGradient id="gd" x1="0" x2="1" y1="0" y2="0"><stop offset="0" stop-color="#ffffff"/><stop offset="0.5" stop-color="#acccf0"/><stop offset="0.62" stop-color="#c1a0c5"/><stop offset="0.75" stop-color="#db5c74"/><stop offset="0.88" stop-color="#ee343e"/><stop offset="1" stop-color="#ff160c"/></linearGradient></defs>
<rect x="334.5" y="416.3" width="119.1" height="9.1" fill="url(#gd)" stroke="#333" stroke-width="0.8"/>
<text x="302" y="423.8" font-size="7.9">row min</text>
<text x="458" y="423.8" font-size="7.9">row max</text>
<path d="M281.7 264.9L334.5 264.9M281.7 264.9L281.7 342.3M281.7 342.3L295.8 342.3M295.8 278.5L295.8 351M295.8 278.5L315 278.5M315 273.9L315 282.9M315 273.9L334.5 273.9M315 282.9L334.5 282.9M295.8 351L308.2 351M308.2 311L308.2 373.5M308.2 311L314.5 311M314.5 301.4L314.5 323.5M314.5 301.4L325.9 301.4M325.9 291.9L325.9 305.5M325.9 291.9L334.5 291.9M325.9 305.5L330.4 305.5M330.4 300.9L330.4 309.9M330.4 300.9L334.5 300.9M330.4 309.9L334.5 309.9M314.5 323.5L320.8 323.5M320.8 318.9L320.8 327.9M320.8 318.9L334.5 318.9M320.8 327.9L334.5 327.9M308.2 373.5L318.2 373.5M311.2 373.5L311.2 408.9M311.2 408.9L334.5 408.9M312.5 336.9L312.5 373.5M312.5 336.9L334.5 336.9M318.2 345.9L318.2 377.5M318.2 345.9L334.5 345.9M318.9 354.9L318.9 380M318.9 354.9L334.5 354.9M320 363.9L320 386M320 363.9L334.5 363.9M321.5 382.5L321.5 399.9M321.5 399.9L334.5 399.9M320 382.5L324.6 382.5M324.6 372.9L324.6 387M324.6 372.9L334.5 372.9M324.6 387L327.4 387M327.4 381.9L327.4 390.9M327.4 381.9L334.5 381.9M327.4 390.9L334.5 390.9" stroke="#111" stroke-width="1" fill="none" stroke-linecap="square"/>
<text x="1.4" y="454.6" font-size="14">e</text>
<text x="75.7" y="450.3" font-size="8.5">Interferon signaling</text>
<text x="312.4" y="450.3" font-size="8.5">Innate immunity</text>
<text x="542.2" y="450.3" font-size="8.5">TLR signaling</text>
<line x1="40.6" y1="479.7" x2="40.6" y2="564.8" stroke="#2e2e2e" stroke-width="0.95"/>
<line x1="40.1" y1="564.3" x2="114.7" y2="564.3" stroke="#2e2e2e" stroke-width="0.95"/>
<line x1="36" y1="480.2" x2="40.6" y2="480.2" stroke="#2e2e2e" stroke-width="0.95"/>
<text x="33" y="482.9" font-size="7.9" text-anchor="end">6</text>
<line x1="36" y1="497" x2="40.6" y2="497" stroke="#2e2e2e" stroke-width="0.95"/>
<text x="33" y="499.7" font-size="7.9" text-anchor="end">4</text>
<line x1="36" y1="513.8" x2="40.6" y2="513.8" stroke="#2e2e2e" stroke-width="0.95"/>
<text x="33" y="516.5" font-size="7.9" text-anchor="end">2</text>
<line x1="36" y1="530.7" x2="40.6" y2="530.7" stroke="#2e2e2e" stroke-width="0.95"/>
<text x="33" y="533.4" font-size="7.9" text-anchor="end">0</text>
<line x1="36" y1="547.5" x2="40.6" y2="547.5" stroke="#2e2e2e" stroke-width="0.95"/>
<text x="33" y="550.2" font-size="7.9" text-anchor="end">-2</text>
<line x1="36" y1="564.3" x2="40.6" y2="564.3" stroke="#2e2e2e" stroke-width="0.95"/>
<text x="33" y="567" font-size="7.9" text-anchor="end">-4</text>
<line x1="55.2" y1="564.3" x2="55.2" y2="568.6" stroke="#2e2e2e" stroke-width="0.95"/>
<text x="55.2" y="577.6" font-size="8.2" text-anchor="middle">0</text>
<line x1="77.1" y1="564.3" x2="77.1" y2="568.6" stroke="#2e2e2e" stroke-width="0.95"/>
<text x="77.1" y="577.6" font-size="8.2" text-anchor="middle">2</text>
<line x1="99.3" y1="564.3" x2="99.3" y2="568.6" stroke="#2e2e2e" stroke-width="0.95"/>
<text x="99.3" y="577.6" font-size="8.2" text-anchor="middle">7</text>
<text x="75.7" y="586.3" font-size="7.73" text-anchor="middle">Days post prime</text>
<text x="21.2" y="527.6" font-size="7.95" text-anchor="middle" transform="rotate(-90 21.2 527.6)">Signature score</text>
<path d="M55.2 467.2V463H99.3V467.2" fill="none" stroke="#8a8a8a" stroke-width="0.7"/>
<path d="M55.2 480.7V476.5H75.7V480.7" fill="none" stroke="#8a8a8a" stroke-width="0.7"/>
<path d="M78.3 480.7V476.5H99.3V480.7" fill="none" stroke="#8a8a8a" stroke-width="0.7"/>
<text x="76.4" y="460.8" font-size="6.5" text-anchor="middle">0.3541</text>
<text x="65.45" y="474.3" font-size="6.5" text-anchor="middle">0.0006</text>
<text x="88.8" y="474.3" font-size="6.5" text-anchor="middle">0.0002</text>
<line x1="55.2" y1="538.9" x2="55.2" y2="546.2" stroke="#777" stroke-width="0.7"/>
<line x1="52.2" y1="538.9" x2="58.2" y2="538.9" stroke="#777" stroke-width="0.7"/>
<line x1="52.2" y1="546.2" x2="58.2" y2="546.2" stroke="#777" stroke-width="0.7"/>
<line x1="47.7" y1="545.4" x2="62.7" y2="545.4" stroke="#222" stroke-width="1"/>
<circle cx="55.2" cy="538.9" r="1.75" fill="#8c8cf2" stroke="#5050b8" stroke-width="0.5"/>
<circle cx="51.7" cy="546.2" r="1.75" fill="#8c8cf2" stroke="#5050b8" stroke-width="0.5"/>
<circle cx="58.7" cy="545.4" r="1.75" fill="#8c8cf2" stroke="#5050b8" stroke-width="0.5"/>
<line x1="77.4" y1="486.5" x2="77.4" y2="505.6" stroke="#777" stroke-width="0.7"/>
<line x1="74.4" y1="486.5" x2="80.4" y2="486.5" stroke="#777" stroke-width="0.7"/>
<line x1="74.4" y1="505.6" x2="80.4" y2="505.6" stroke="#777" stroke-width="0.7"/>
<line x1="69.9" y1="492.6" x2="84.9" y2="492.6" stroke="#222" stroke-width="1"/>
<circle cx="77.4" cy="486.5" r="1.75" fill="#8c8cf2" stroke="#5050b8" stroke-width="0.5"/>
<circle cx="77.4" cy="492.6" r="1.75" fill="#8c8cf2" stroke="#5050b8" stroke-width="0.5"/>
<circle cx="77.4" cy="505.6" r="1.75" fill="#8c8cf2" stroke="#5050b8" stroke-width="0.5"/>
<line x1="99.5" y1="543.8" x2="99.5" y2="559.9" stroke="#777" stroke-width="0.7"/>
<line x1="96.5" y1="543.8" x2="102.5" y2="543.8" stroke="#777" stroke-width="0.7"/>
<line x1="96.5" y1="559.9" x2="102.5" y2="559.9" stroke="#777" stroke-width="0.7"/>
<line x1="92" y1="555.4" x2="107" y2="555.4" stroke="#222" stroke-width="1"/>
<circle cx="99.5" cy="543.8" r="1.75" fill="#8c8cf2" stroke="#5050b8" stroke-width="0.5"/>
<circle cx="99.5" cy="555.4" r="1.75" fill="#8c8cf2" stroke="#5050b8" stroke-width="0.5"/>
<circle cx="99.5" cy="559.9" r="1.75" fill="#8c8cf2" stroke="#5050b8" stroke-width="0.5"/>
<line x1="139.2" y1="478.3" x2="139.2" y2="564.3" stroke="#2e2e2e" stroke-width="0.95"/>
<line x1="138.7" y1="563.8" x2="214.9" y2="563.8" stroke="#2e2e2e" stroke-width="0.95"/>
<line x1="134.6" y1="478.8" x2="139.2" y2="478.8" stroke="#2e2e2e" stroke-width="0.95"/>
<text x="131.6" y="481.5" font-size="7.9" text-anchor="end">10</text>
<line x1="134.6" y1="507.4" x2="139.2" y2="507.4" stroke="#2e2e2e" stroke-width="0.95"/>
<text x="131.6" y="510.1" font-size="7.9" text-anchor="end">5</text>
<line x1="134.6" y1="535.4" x2="139.2" y2="535.4" stroke="#2e2e2e" stroke-width="0.95"/>
<text x="131.6" y="538.1" font-size="7.9" text-anchor="end">0</text>
<line x1="134.6" y1="563.8" x2="139.2" y2="563.8" stroke="#2e2e2e" stroke-width="0.95"/>
<text x="131.6" y="566.5" font-size="7.9" text-anchor="end">-5</text>
<line x1="154.4" y1="563.8" x2="154.4" y2="568.1" stroke="#2e2e2e" stroke-width="0.95"/>
<text x="154.4" y="577.6" font-size="8.2" text-anchor="middle">0</text>
<line x1="176.5" y1="563.8" x2="176.5" y2="568.1" stroke="#2e2e2e" stroke-width="0.95"/>
<text x="176.5" y="577.6" font-size="8.2" text-anchor="middle">2</text>
<line x1="199.1" y1="563.8" x2="199.1" y2="568.1" stroke="#2e2e2e" stroke-width="0.95"/>
<text x="199.1" y="577.6" font-size="8.2" text-anchor="middle">7</text>
<text x="176.6" y="586.3" font-size="7.73" text-anchor="middle">Days post boost</text>
<path d="M154.4 467.2V463H199.1V467.2" fill="none" stroke="#8a8a8a" stroke-width="0.7"/>
<path d="M154.4 480.7V476.5H175.3V480.7" fill="none" stroke="#8a8a8a" stroke-width="0.7"/>
<path d="M178.1 480.7V476.5H199.1V480.7" fill="none" stroke="#8a8a8a" stroke-width="0.7"/>
<text x="175.8" y="460.8" font-size="6.5" text-anchor="middle">0.1416</text>
<text x="164.85" y="474.3" font-size="6.5" text-anchor="middle">&lt;0.0001</text>
<text x="188.6" y="474.3" font-size="6.5" text-anchor="middle">&lt;0.0001</text>
<line x1="154.25" y1="524.3" x2="154.25" y2="530.1" stroke="#777" stroke-width="0.7"/>
<line x1="154.25" y1="552.7" x2="154.25" y2="557.6" stroke="#777" stroke-width="0.7"/>
<line x1="151.65" y1="524.3" x2="156.85" y2="524.3" stroke="#777" stroke-width="0.7"/>
<line x1="151.65" y1="557.6" x2="156.85" y2="557.6" stroke="#777" stroke-width="0.7"/>
<rect x="146.5" y="530.1" width="15.5" height="22.6" fill="none" stroke="#111" stroke-width="0.9"/>
<line x1="146.5" y1="546.2" x2="162" y2="546.2" stroke="#111" stroke-width="0.9"/>
<circle cx="154.4" cy="524.3" r="1.75" fill="#8c8cf2" stroke="#5050b8" stroke-width="0.5"/>
<circle cx="154.4" cy="531.9" r="1.75" fill="#8c8cf2" stroke="#5050b8" stroke-width="0.5"/>
<circle cx="157.9" cy="545" r="1.75" fill="#8c8cf2" stroke="#5050b8" stroke-width="0.5"/>
<circle cx="150.9" cy="548" r="1.75" fill="#8c8cf2" stroke="#5050b8" stroke-width="0.5"/>
<circle cx="154.4" cy="551.2" r="1.75" fill="#8c8cf2" stroke="#5050b8" stroke-width="0.5"/>
<circle cx="154.4" cy="557.6" r="1.75" fill="#8c8cf2" stroke="#5050b8" stroke-width="0.5"/>
<line x1="177" y1="493.7" x2="177" y2="503" stroke="#777" stroke-width="0.7"/>
<line x1="177" y1="518.6" x2="177" y2="520.3" stroke="#777" stroke-width="0.7"/>
<line x1="174.4" y1="493.7" x2="179.6" y2="493.7" stroke="#777" stroke-width="0.7"/>
<line x1="174.4" y1="520.3" x2="179.6" y2="520.3" stroke="#777" stroke-width="0.7"/>
<rect x="169.3" y="503" width="15.4" height="15.6" fill="none" stroke="#111" stroke-width="0.9"/>
<line x1="169.3" y1="508.6" x2="184.7" y2="508.6" stroke="#111" stroke-width="0.9"/>
<circle cx="176.7" cy="493.7" r="1.75" fill="#8c8cf2" stroke="#5050b8" stroke-width="0.5"/>
<circle cx="173.3" cy="506" r="1.75" fill="#8c8cf2" stroke="#5050b8" stroke-width="0.5"/>
<circle cx="180.2" cy="506.5" r="1.75" fill="#8c8cf2" stroke="#5050b8" stroke-width="0.5"/>
<circle cx="176.7" cy="510.7" r="1.75" fill="#8c8cf2" stroke="#5050b8" stroke-width="0.5"/>
<circle cx="180.2" cy="518.2" r="1.75" fill="#8c8cf2" stroke="#5050b8" stroke-width="0.5"/>
<circle cx="173.3" cy="520" r="1.75" fill="#8c8cf2" stroke="#5050b8" stroke-width="0.5"/>
<line x1="199.3" y1="548.5" x2="199.3" y2="550.1" stroke="#777" stroke-width="0.7"/>
<line x1="199.3" y1="559.6" x2="199.3" y2="562.4" stroke="#777" stroke-width="0.7"/>
<line x1="196.7" y1="548.5" x2="201.9" y2="548.5" stroke="#777" stroke-width="0.7"/>
<line x1="196.7" y1="562.4" x2="201.9" y2="562.4" stroke="#777" stroke-width="0.7"/>
<rect x="191.6" y="550.1" width="15.4" height="9.5" fill="none" stroke="#111" stroke-width="0.9"/>
<line x1="191.6" y1="552.4" x2="207" y2="552.4" stroke="#111" stroke-width="0.9"/>
<circle cx="204.9" cy="548" r="1.75" fill="#8c8cf2" stroke="#5050b8" stroke-width="0.5"/>
<circle cx="193.3" cy="550.5" r="1.75" fill="#8c8cf2" stroke="#5050b8" stroke-width="0.5"/>
<circle cx="204.9" cy="551.9" r="1.75" fill="#8c8cf2" stroke="#5050b8" stroke-width="0.5"/>
<circle cx="199.1" cy="553.6" r="1.75" fill="#8c8cf2" stroke="#5050b8" stroke-width="0.5"/>
<circle cx="199.1" cy="558.9" r="1.75" fill="#8c8cf2" stroke="#5050b8" stroke-width="0.5"/>
<circle cx="199.1" cy="562.4" r="1.75" fill="#8c8cf2" stroke="#5050b8" stroke-width="0.5"/>
<line x1="265.9" y1="479.7" x2="265.9" y2="565.5" stroke="#2e2e2e" stroke-width="0.95"/>
<line x1="265.4" y1="565" x2="340.7" y2="565" stroke="#2e2e2e" stroke-width="0.95"/>
<line x1="261.3" y1="480.2" x2="265.9" y2="480.2" stroke="#2e2e2e" stroke-width="0.95"/>
<text x="258.3" y="482.9" font-size="7.9" text-anchor="end">3</text>
<line x1="261.3" y1="497.2" x2="265.9" y2="497.2" stroke="#2e2e2e" stroke-width="0.95"/>
<text x="258.3" y="499.9" font-size="7.9" text-anchor="end">2</text>
<line x1="261.3" y1="514.2" x2="265.9" y2="514.2" stroke="#2e2e2e" stroke-width="0.95"/>
<text x="258.3" y="516.9" font-size="7.9" text-anchor="end">1</text>
<line x1="261.3" y1="531.2" x2="265.9" y2="531.2" stroke="#2e2e2e" stroke-width="0.95"/>
<text x="258.3" y="533.9" font-size="7.9" text-anchor="end">0</text>
<line x1="261.3" y1="548.2" x2="265.9" y2="548.2" stroke="#2e2e2e" stroke-width="0.95"/>
<text x="258.3" y="550.9" font-size="7.9" text-anchor="end">-1</text>
<line x1="261.3" y1="565" x2="265.9" y2="565" stroke="#2e2e2e" stroke-width="0.95"/>
<text x="258.3" y="567.7" font-size="7.9" text-anchor="end">-4</text>
<line x1="280.5" y1="565" x2="280.5" y2="569.3" stroke="#2e2e2e" stroke-width="0.95"/>
<text x="280.5" y="577.6" font-size="8.2" text-anchor="middle">0</text>
<line x1="302.5" y1="565" x2="302.5" y2="569.3" stroke="#2e2e2e" stroke-width="0.95"/>
<text x="302.5" y="577.6" font-size="8.2" text-anchor="middle">2</text>
<line x1="325.5" y1="565" x2="325.5" y2="569.3" stroke="#2e2e2e" stroke-width="0.95"/>
<text x="325.5" y="577.6" font-size="8.2" text-anchor="middle">7</text>
<text x="301.5" y="586.3" font-size="7.73" text-anchor="middle">Days post prime</text>
<text x="246.8" y="530.9" font-size="7.95" text-anchor="middle" transform="rotate(-90 246.8 530.9)">Signature score</text>
<path d="M280.5 467.2V463H325.5V467.2" fill="none" stroke="#8a8a8a" stroke-width="0.7"/>
<path d="M280.5 480.7V476.5H301.3V480.7" fill="none" stroke="#8a8a8a" stroke-width="0.7"/>
<path d="M304.1 480.7V476.5H325.5V480.7" fill="none" stroke="#8a8a8a" stroke-width="0.7"/>
<text x="301.8" y="460.8" font-size="6.5" text-anchor="middle">0.9484</text>
<text x="290.9" y="474.3" font-size="6.5" text-anchor="middle">0.0129</text>
<text x="314.8" y="474.3" font-size="6.5" text-anchor="middle">0.0092</text>
<line x1="280.5" y1="539.8" x2="280.5" y2="548.4" stroke="#777" stroke-width="0.7"/>
<line x1="277.5" y1="539.8" x2="283.5" y2="539.8" stroke="#777" stroke-width="0.7"/>
<line x1="277.5" y1="548.4" x2="283.5" y2="548.4" stroke="#777" stroke-width="0.7"/>
<line x1="273" y1="541.5" x2="288" y2="541.5" stroke="#222" stroke-width="1"/>
<circle cx="277" cy="539.8" r="1.75" fill="#8c8cf2" stroke="#5050b8" stroke-width="0.5"/>
<circle cx="283.8" cy="541.5" r="1.75" fill="#8c8cf2" stroke="#5050b8" stroke-width="0.5"/>
<circle cx="280.5" cy="548.4" r="1.75" fill="#8c8cf2" stroke="#5050b8" stroke-width="0.5"/>
<line x1="302.9" y1="487.4" x2="302.9" y2="524.3" stroke="#777" stroke-width="0.7"/>
<line x1="299.9" y1="487.4" x2="305.9" y2="487.4" stroke="#777" stroke-width="0.7"/>
<line x1="299.9" y1="524.3" x2="305.9" y2="524.3" stroke="#777" stroke-width="0.7"/>
<line x1="295.4" y1="501.6" x2="310.4" y2="501.6" stroke="#222" stroke-width="1"/>
<circle cx="302.9" cy="487.4" r="1.75" fill="#8c8cf2" stroke="#5050b8" stroke-width="0.5"/>
<circle cx="302.9" cy="501.6" r="1.75" fill="#8c8cf2" stroke="#5050b8" stroke-width="0.5"/>
<circle cx="302.9" cy="524.3" r="1.75" fill="#8c8cf2" stroke="#5050b8" stroke-width="0.5"/>
<line x1="325.1" y1="541.7" x2="325.1" y2="548.9" stroke="#777" stroke-width="0.7"/>
<line x1="322.1" y1="541.7" x2="328.1" y2="541.7" stroke="#777" stroke-width="0.7"/>
<line x1="322.1" y1="548.9" x2="328.1" y2="548.9" stroke="#777" stroke-width="0.7"/>
<line x1="317.6" y1="547.3" x2="332.6" y2="547.3" stroke="#222" stroke-width="1"/>
<circle cx="325.1" cy="541.7" r="1.75" fill="#8c8cf2" stroke="#5050b8" stroke-width="0.5"/>
<circle cx="321.8" cy="548.9" r="1.75" fill="#8c8cf2" stroke="#5050b8" stroke-width="0.5"/>
<circle cx="328.6" cy="547.7" r="1.75" fill="#8c8cf2" stroke="#5050b8" stroke-width="0.5"/>
<line x1="362.5" y1="479.7" x2="362.5" y2="565.1" stroke="#2e2e2e" stroke-width="0.95"/>
<line x1="362" y1="564.6" x2="437.5" y2="564.6" stroke="#2e2e2e" stroke-width="0.95"/>
<line x1="357.9" y1="480.2" x2="362.5" y2="480.2" stroke="#2e2e2e" stroke-width="0.95"/>
<text x="354.9" y="482.9" font-size="7.9" text-anchor="end">4</text>
<line x1="357.9" y1="501.2" x2="362.5" y2="501.2" stroke="#2e2e2e" stroke-width="0.95"/>
<text x="354.9" y="503.9" font-size="7.9" text-anchor="end">2</text>
<line x1="357.9" y1="522.2" x2="362.5" y2="522.2" stroke="#2e2e2e" stroke-width="0.95"/>
<text x="354.9" y="524.9" font-size="7.9" text-anchor="end">0</text>
<line x1="357.9" y1="543.4" x2="362.5" y2="543.4" stroke="#2e2e2e" stroke-width="0.95"/>
<text x="354.9" y="546.1" font-size="7.9" text-anchor="end">-2</text>
<line x1="357.9" y1="564.6" x2="362.5" y2="564.6" stroke="#2e2e2e" stroke-width="0.95"/>
<text x="354.9" y="567.3" font-size="7.9" text-anchor="end">-4</text>
<line x1="377.4" y1="564.6" x2="377.4" y2="568.9" stroke="#2e2e2e" stroke-width="0.95"/>
<text x="377.4" y="577.6" font-size="8.2" text-anchor="middle">0</text>
<line x1="399.8" y1="564.6" x2="399.8" y2="568.9" stroke="#2e2e2e" stroke-width="0.95"/>
<text x="399.8" y="577.6" font-size="8.2" text-anchor="middle">2</text>
<line x1="422.4" y1="564.6" x2="422.4" y2="568.9" stroke="#2e2e2e" stroke-width="0.95"/>
<text x="422.4" y="577.6" font-size="8.2" text-anchor="middle">7</text>
<text x="399.9" y="586.3" font-size="7.73" text-anchor="middle">Days post boost</text>
<path d="M377.4 467.2V463H422.4V467.2" fill="none" stroke="#8a8a8a" stroke-width="0.7"/>
<path d="M377.4 480.7V476.5H398.4V480.7" fill="none" stroke="#8a8a8a" stroke-width="0.7"/>
<path d="M401.1 480.7V476.5H422.4V480.7" fill="none" stroke="#8a8a8a" stroke-width="0.7"/>
<text x="399.1" y="460.8" font-size="6.5" text-anchor="middle">0.3471</text>
<text x="387.9" y="474.3" font-size="6.5" text-anchor="middle">0.0045</text>
<text x="411.75" y="474.3" font-size="6.5" text-anchor="middle">0.0003</text>
<line x1="377.75" y1="517" x2="377.75" y2="518.2" stroke="#777" stroke-width="0.7"/>
<line x1="377.75" y1="534.5" x2="377.75" y2="546.8" stroke="#777" stroke-width="0.7"/>
<line x1="375.15" y1="517" x2="380.35" y2="517" stroke="#777" stroke-width="0.7"/>
<line x1="375.15" y1="546.8" x2="380.35" y2="546.8" stroke="#777" stroke-width="0.7"/>
<rect x="369.9" y="518.2" width="15.7" height="16.3" fill="none" stroke="#111" stroke-width="0.9"/>
<line x1="369.9" y1="524.3" x2="385.6" y2="524.3" stroke="#111" stroke-width="0.9"/>
<circle cx="374.1" cy="518.2" r="1.75" fill="#8c8cf2" stroke="#5050b8" stroke-width="0.5"/>
<circle cx="381.1" cy="517" r="1.75" fill="#8c8cf2" stroke="#5050b8" stroke-width="0.5"/>
<circle cx="377.6" cy="522.1" r="1.75" fill="#8c8cf2" stroke="#5050b8" stroke-width="0.5"/>
<circle cx="374.1" cy="527.5" r="1.75" fill="#8c8cf2" stroke="#5050b8" stroke-width="0.5"/>
<circle cx="381.1" cy="530.1" r="1.75" fill="#8c8cf2" stroke="#5050b8" stroke-width="0.5"/>
<circle cx="377.6" cy="546.8" r="1.75" fill="#8c8cf2" stroke="#5050b8" stroke-width="0.5"/>
<line x1="400" y1="490" x2="400" y2="498.4" stroke="#777" stroke-width="0.7"/>
<line x1="400" y1="514.4" x2="400" y2="518.2" stroke="#777" stroke-width="0.7"/>
<line x1="397.4" y1="490" x2="402.6" y2="490" stroke="#777" stroke-width="0.7"/>
<line x1="397.4" y1="518.2" x2="402.6" y2="518.2" stroke="#777" stroke-width="0.7"/>
<rect x="392.3" y="498.4" width="15.4" height="16" fill="none" stroke="#111" stroke-width="0.9"/>
<line x1="392.3" y1="504.6" x2="407.7" y2="504.6" stroke="#111" stroke-width="0.9"/>
<circle cx="400" cy="490" r="1.75" fill="#8c8cf2" stroke="#5050b8" stroke-width="0.5"/>
<circle cx="396.7" cy="501.7" r="1.75" fill="#8c8cf2" stroke="#5050b8" stroke-width="0.5"/>
<circle cx="403.5" cy="503" r="1.75" fill="#8c8cf2" stroke="#5050b8" stroke-width="0.5"/>
<circle cx="400" cy="506.5" r="1.75" fill="#8c8cf2" stroke="#5050b8" stroke-width="0.5"/>
<circle cx="400" cy="513.3" r="1.75" fill="#8c8cf2" stroke="#5050b8" stroke-width="0.5"/>
<circle cx="400" cy="518.2" r="1.75" fill="#8c8cf2" stroke="#5050b8" stroke-width="0.5"/>
<line x1="422.4" y1="522.9" x2="422.4" y2="529.1" stroke="#777" stroke-width="0.7"/>
<line x1="422.4" y1="540.5" x2="422.4" y2="548.9" stroke="#777" stroke-width="0.7"/>
<line x1="419.8" y1="522.9" x2="425" y2="522.9" stroke="#777" stroke-width="0.7"/>
<line x1="419.8" y1="548.9" x2="425" y2="548.9" stroke="#777" stroke-width="0.7"/>
<rect x="414.7" y="529.1" width="15.4" height="11.4" fill="none" stroke="#111" stroke-width="0.9"/>
<line x1="414.7" y1="535.4" x2="430.1" y2="535.4" stroke="#111" stroke-width="0.9"/>
<circle cx="422.6" cy="522.9" r="1.75" fill="#8c8cf2" stroke="#5050b8" stroke-width="0.5"/>
<circle cx="422.6" cy="530.8" r="1.75" fill="#8c8cf2" stroke="#5050b8" stroke-width="0.5"/>
<circle cx="416.5" cy="534.9" r="1.75" fill="#8c8cf2" stroke="#5050b8" stroke-width="0.5"/>
<circle cx="428.4" cy="535.9" r="1.75" fill="#8c8cf2" stroke="#5050b8" stroke-width="0.5"/>
<circle cx="422.6" cy="537.5" r="1.75" fill="#8c8cf2" stroke="#5050b8" stroke-width="0.5"/>
<circle cx="422.6" cy="548.9" r="1.75" fill="#8c8cf2" stroke="#5050b8" stroke-width="0.5"/>
<line x1="487.4" y1="479.2" x2="487.4" y2="564.8" stroke="#2e2e2e" stroke-width="0.95"/>
<line x1="486.9" y1="564.3" x2="562.2" y2="564.3" stroke="#2e2e2e" stroke-width="0.95"/>
<line x1="482.8" y1="479.7" x2="487.4" y2="479.7" stroke="#2e2e2e" stroke-width="0.95"/>
<text x="479.8" y="482.4" font-size="7.9" text-anchor="end">4</text>
<line x1="482.8" y1="500.7" x2="487.4" y2="500.7" stroke="#2e2e2e" stroke-width="0.95"/>
<text x="479.8" y="503.4" font-size="7.9" text-anchor="end">2</text>
<line x1="482.8" y1="522.1" x2="487.4" y2="522.1" stroke="#2e2e2e" stroke-width="0.95"/>
<text x="479.8" y="524.8" font-size="7.9" text-anchor="end">0</text>
<line x1="482.8" y1="543.3" x2="487.4" y2="543.3" stroke="#2e2e2e" stroke-width="0.95"/>
<text x="479.8" y="546" font-size="7.9" text-anchor="end">-2</text>
<line x1="482.8" y1="564.3" x2="487.4" y2="564.3" stroke="#2e2e2e" stroke-width="0.95"/>
<text x="479.8" y="567" font-size="7.9" text-anchor="end">-6</text>
<line x1="501.8" y1="564.3" x2="501.8" y2="568.6" stroke="#2e2e2e" stroke-width="0.95"/>
<text x="501.8" y="577.6" font-size="8.2" text-anchor="middle">0</text>
<line x1="524.2" y1="564.3" x2="524.2" y2="568.6" stroke="#2e2e2e" stroke-width="0.95"/>
<text x="524.2" y="577.6" font-size="8.2" text-anchor="middle">2</text>
<line x1="546.6" y1="564.3" x2="546.6" y2="568.6" stroke="#2e2e2e" stroke-width="0.95"/>
<text x="546.6" y="577.6" font-size="8.2" text-anchor="middle">7</text>
<text x="524.3" y="586.3" font-size="7.73" text-anchor="middle">Days post prime</text>
<text x="468.3" y="530.9" font-size="7.95" text-anchor="middle" transform="rotate(-90 468.3 530.9)">Signature score</text>
<path d="M501.8 467.2V463H546.6V467.2" fill="none" stroke="#8a8a8a" stroke-width="0.7"/>
<path d="M501.8 480.7V476.5H522.4V480.7" fill="none" stroke="#8a8a8a" stroke-width="0.7"/>
<path d="M525.6 480.7V476.5H546.6V480.7" fill="none" stroke="#8a8a8a" stroke-width="0.7"/>
<text x="523.5" y="460.8" font-size="6.5" text-anchor="middle">0.9869</text>
<text x="512.1" y="474.3" font-size="6.5" text-anchor="middle">0.0111</text>
<text x="536.1" y="474.3" font-size="6.5" text-anchor="middle">0.0094</text>
<line x1="502" y1="488.1" x2="502" y2="527.3" stroke="#777" stroke-width="0.7"/>
<line x1="499" y1="488.1" x2="505" y2="488.1" stroke="#777" stroke-width="0.7"/>
<line x1="499" y1="527.3" x2="505" y2="527.3" stroke="#777" stroke-width="0.7"/>
<line x1="494.5" y1="506.8" x2="509.5" y2="506.8" stroke="#222" stroke-width="1"/>
<circle cx="502" cy="488.1" r="1.75" fill="#8c8cf2" stroke="#5050b8" stroke-width="0.5"/>
<circle cx="502" cy="506.8" r="1.75" fill="#8c8cf2" stroke="#5050b8" stroke-width="0.5"/>
<circle cx="502" cy="527.3" r="1.75" fill="#8c8cf2" stroke="#5050b8" stroke-width="0.5"/>
<line x1="524.6" y1="542" x2="524.6" y2="561" stroke="#777" stroke-width="0.7"/>
<line x1="521.6" y1="542" x2="527.6" y2="542" stroke="#777" stroke-width="0.7"/>
<line x1="521.6" y1="561" x2="527.6" y2="561" stroke="#777" stroke-width="0.7"/>
<line x1="517.1" y1="555.2" x2="532.1" y2="555.2" stroke="#222" stroke-width="1"/>
<circle cx="524.6" cy="542" r="1.75" fill="#8c8cf2" stroke="#5050b8" stroke-width="0.5"/>
<circle cx="524.6" cy="555.2" r="1.75" fill="#8c8cf2" stroke="#5050b8" stroke-width="0.5"/>
<circle cx="524.6" cy="561" r="1.75" fill="#8c8cf2" stroke="#5050b8" stroke-width="0.5"/>
<line x1="546.7" y1="503.2" x2="546.7" y2="507.9" stroke="#777" stroke-width="0.7"/>
<line x1="543.7" y1="503.2" x2="549.7" y2="503.2" stroke="#777" stroke-width="0.7"/>
<line x1="543.7" y1="507.9" x2="549.7" y2="507.9" stroke="#777" stroke-width="0.7"/>
<line x1="539.2" y1="506.3" x2="554.2" y2="506.3" stroke="#222" stroke-width="1"/>
<circle cx="543.5" cy="503.2" r="1.75" fill="#8c8cf2" stroke="#5050b8" stroke-width="0.5"/>
<circle cx="543.5" cy="507.9" r="1.75" fill="#8c8cf2" stroke="#5050b8" stroke-width="0.5"/>
<circle cx="550.1" cy="506.3" r="1.75" fill="#8c8cf2" stroke="#5050b8" stroke-width="0.5"/>
<line x1="590.9" y1="479.2" x2="590.9" y2="564.8" stroke="#2e2e2e" stroke-width="0.95"/>
<line x1="590.4" y1="564.3" x2="665.7" y2="564.3" stroke="#2e2e2e" stroke-width="0.95"/>
<line x1="586.3" y1="479.7" x2="590.9" y2="479.7" stroke="#2e2e2e" stroke-width="0.95"/>
<text x="583.3" y="482.4" font-size="7.9" text-anchor="end">4</text>
<line x1="586.3" y1="496.7" x2="590.9" y2="496.7" stroke="#2e2e2e" stroke-width="0.95"/>
<text x="583.3" y="499.4" font-size="7.9" text-anchor="end">2</text>
<line x1="586.3" y1="513.5" x2="590.9" y2="513.5" stroke="#2e2e2e" stroke-width="0.95"/>
<text x="583.3" y="516.2" font-size="7.9" text-anchor="end">0</text>
<line x1="586.3" y1="530.5" x2="590.9" y2="530.5" stroke="#2e2e2e" stroke-width="0.95"/>
<text x="583.3" y="533.2" font-size="7.9" text-anchor="end">-2</text>
<line x1="586.3" y1="547.3" x2="590.9" y2="547.3" stroke="#2e2e2e" stroke-width="0.95"/>
<text x="583.3" y="550" font-size="7.9" text-anchor="end">-4</text>
<line x1="586.3" y1="564.3" x2="590.9" y2="564.3" stroke="#2e2e2e" stroke-width="0.95"/>
<text x="583.3" y="567" font-size="7.9" text-anchor="end">-6</text>
<line x1="605.6" y1="564.3" x2="605.6" y2="568.6" stroke="#2e2e2e" stroke-width="0.95"/>
<text x="605.6" y="577.6" font-size="8.2" text-anchor="middle">0</text>
<line x1="628.2" y1="564.3" x2="628.2" y2="568.6" stroke="#2e2e2e" stroke-width="0.95"/>
<text x="628.2" y="577.6" font-size="8.2" text-anchor="middle">2</text>
<line x1="650.7" y1="564.3" x2="650.7" y2="568.6" stroke="#2e2e2e" stroke-width="0.95"/>
<text x="650.7" y="577.6" font-size="8.2" text-anchor="middle">7</text>
<text x="628.3" y="586.3" font-size="7.73" text-anchor="middle">Days post boost</text>
<path d="M605.6 467.2V463H650.7V467.2" fill="none" stroke="#8a8a8a" stroke-width="0.7"/>
<path d="M605.6 480.7V476.5H626.8V480.7" fill="none" stroke="#8a8a8a" stroke-width="0.7"/>
<path d="M629.8 480.7V476.5H650.7V480.7" fill="none" stroke="#8a8a8a" stroke-width="0.7"/>
<text x="627.5" y="460.8" font-size="6.5" text-anchor="middle">0.5390</text>
<text x="616.2" y="474.3" font-size="6.5" text-anchor="middle">0.7492</text>
<text x="640.25" y="474.3" font-size="6.5" text-anchor="middle">0.1989</text>
<line x1="605.9" y1="485.8" x2="605.9" y2="498.1" stroke="#777" stroke-width="0.7"/>
<line x1="605.9" y1="524.3" x2="605.9" y2="552.7" stroke="#777" stroke-width="0.7"/>
<line x1="603.3" y1="485.8" x2="608.5" y2="485.8" stroke="#777" stroke-width="0.7"/>
<line x1="603.3" y1="552.7" x2="608.5" y2="552.7" stroke="#777" stroke-width="0.7"/>
<rect x="598.3" y="498.1" width="15.2" height="26.2" fill="none" stroke="#111" stroke-width="0.9"/>
<line x1="598.3" y1="509.3" x2="613.5" y2="509.3" stroke="#111" stroke-width="0.9"/>
<circle cx="605.8" cy="485.8" r="1.75" fill="#8c8cf2" stroke="#5050b8" stroke-width="0.5"/>
<circle cx="605.8" cy="502.1" r="1.75" fill="#8c8cf2" stroke="#5050b8" stroke-width="0.5"/>
<circle cx="602.3" cy="510" r="1.75" fill="#8c8cf2" stroke="#5050b8" stroke-width="0.5"/>
<circle cx="609.3" cy="509.1" r="1.75" fill="#8c8cf2" stroke="#5050b8" stroke-width="0.5"/>
<circle cx="605.8" cy="515.2" r="1.75" fill="#8c8cf2" stroke="#5050b8" stroke-width="0.5"/>
<circle cx="605.8" cy="552.7" r="1.75" fill="#8c8cf2" stroke="#5050b8" stroke-width="0.5"/>
<line x1="628.25" y1="483.5" x2="628.25" y2="491.9" stroke="#777" stroke-width="0.7"/>
<line x1="628.25" y1="515.2" x2="628.25" y2="526.3" stroke="#777" stroke-width="0.7"/>
<line x1="625.65" y1="483.5" x2="630.85" y2="483.5" stroke="#777" stroke-width="0.7"/>
<line x1="625.65" y1="526.3" x2="630.85" y2="526.3" stroke="#777" stroke-width="0.7"/>
<rect x="620.7" y="491.9" width="15.1" height="23.3" fill="none" stroke="#111" stroke-width="0.9"/>
<line x1="620.7" y1="504.7" x2="635.8" y2="504.7" stroke="#111" stroke-width="0.9"/>
<circle cx="628.4" cy="483.5" r="1.75" fill="#8c8cf2" stroke="#5050b8" stroke-width="0.5"/>
<circle cx="628.4" cy="494.9" r="1.75" fill="#8c8cf2" stroke="#5050b8" stroke-width="0.5"/>
<circle cx="628.4" cy="502.4" r="1.75" fill="#8c8cf2" stroke="#5050b8" stroke-width="0.5"/>
<circle cx="628.4" cy="506.8" r="1.75" fill="#8c8cf2" stroke="#5050b8" stroke-width="0.5"/>
<circle cx="628.4" cy="511.6" r="1.75" fill="#8c8cf2" stroke="#5050b8" stroke-width="0.5"/>
<circle cx="628.4" cy="526.3" r="1.75" fill="#8c8cf2" stroke="#5050b8" stroke-width="0.5"/>
<line x1="650.75" y1="496" x2="650.75" y2="505.6" stroke="#777" stroke-width="0.7"/>
<line x1="650.75" y1="538.4" x2="650.75" y2="555.9" stroke="#777" stroke-width="0.7"/>
<line x1="648.15" y1="496" x2="653.35" y2="496" stroke="#777" stroke-width="0.7"/>
<line x1="648.15" y1="555.9" x2="653.35" y2="555.9" stroke="#777" stroke-width="0.7"/>
<rect x="643.1" y="505.6" width="15.3" height="32.8" fill="none" stroke="#111" stroke-width="0.9"/>
<line x1="643.1" y1="526.5" x2="658.4" y2="526.5" stroke="#111" stroke-width="0.9"/>
<circle cx="650.7" cy="496" r="1.75" fill="#8c8cf2" stroke="#5050b8" stroke-width="0.5"/>
<circle cx="650.7" cy="509.1" r="1.75" fill="#8c8cf2" stroke="#5050b8" stroke-width="0.5"/>
<circle cx="647.3" cy="526.6" r="1.75" fill="#8c8cf2" stroke="#5050b8" stroke-width="0.5"/>
<circle cx="654" cy="526.6" r="1.75" fill="#8c8cf2" stroke="#5050b8" stroke-width="0.5"/>
<circle cx="650.7" cy="532.8" r="1.75" fill="#8c8cf2" stroke="#5050b8" stroke-width="0.5"/>
<circle cx="650.7" cy="555.9" r="1.75" fill="#8c8cf2" stroke="#5050b8" stroke-width="0.5"/>
<text x="78.3" y="608.1" font-size="8.5">Complement system</text>
<text x="315.3" y="608.1" font-size="8.5">NF-kB signaling</text>
<text x="528.2" y="608.1" font-size="8.5">Adaptive immunity</text>
<line x1="40.6" y1="636.8" x2="40.6" y2="722.2" stroke="#2e2e2e" stroke-width="0.95"/>
<line x1="40.1" y1="721.7" x2="115.3" y2="721.7" stroke="#2e2e2e" stroke-width="0.95"/>
<line x1="36" y1="637.3" x2="40.6" y2="637.3" stroke="#2e2e2e" stroke-width="0.95"/>
<text x="33" y="640" font-size="7.9" text-anchor="end">6</text>
<line x1="36" y1="658.3" x2="40.6" y2="658.3" stroke="#2e2e2e" stroke-width="0.95"/>
<text x="33" y="661" font-size="7.9" text-anchor="end">4</text>
<line x1="36" y1="679.3" x2="40.6" y2="679.3" stroke="#2e2e2e" stroke-width="0.95"/>
<text x="33" y="682" font-size="7.9" text-anchor="end">2</text>
<line x1="36" y1="700.5" x2="40.6" y2="700.5" stroke="#2e2e2e" stroke-width="0.95"/>
<text x="33" y="703.2" font-size="7.9" text-anchor="end">0</text>
<line x1="36" y1="721.7" x2="40.6" y2="721.7" stroke="#2e2e2e" stroke-width="0.95"/>
<text x="33" y="724.4" font-size="7.9" text-anchor="end">-4</text>
<line x1="55.4" y1="721.7" x2="55.4" y2="726" stroke="#2e2e2e" stroke-width="0.95"/>
<text x="55.4" y="733.3" font-size="8.2" text-anchor="middle">0</text>
<line x1="77.3" y1="721.7" x2="77.3" y2="726" stroke="#2e2e2e" stroke-width="0.95"/>
<text x="77.3" y="733.3" font-size="8.2" text-anchor="middle">2</text>
<line x1="100.2" y1="721.7" x2="100.2" y2="726" stroke="#2e2e2e" stroke-width="0.95"/>
<text x="100.2" y="733.3" font-size="8.2" text-anchor="middle">7</text>
<text x="77.4" y="742.1" font-size="7.73" text-anchor="middle">Days post prime</text>
<text x="21.2" y="688.8" font-size="7.95" text-anchor="middle" transform="rotate(-90 21.2 688.8)">Signature score</text>
<path d="M55.4 624.9V620.7H100.2V624.9" fill="none" stroke="#8a8a8a" stroke-width="0.7"/>
<path d="M55.4 638V633.8H76.2V638" fill="none" stroke="#8a8a8a" stroke-width="0.7"/>
<path d="M79.2 638V633.8H100.2V638" fill="none" stroke="#8a8a8a" stroke-width="0.7"/>
<text x="76.6" y="618.5" font-size="6.5" text-anchor="middle">0.4620</text>
<text x="65.8" y="631.6" font-size="6.5" text-anchor="middle">0.0474</text>
<text x="89.7" y="631.6" font-size="6.5" text-anchor="middle">0.0111</text>
<line x1="55.4" y1="688.3" x2="55.4" y2="719.3" stroke="#777" stroke-width="0.7"/>
<line x1="52.4" y1="688.3" x2="58.4" y2="688.3" stroke="#777" stroke-width="0.7"/>
<line x1="52.4" y1="719.3" x2="58.4" y2="719.3" stroke="#777" stroke-width="0.7"/>
<line x1="47.9" y1="714" x2="62.9" y2="714" stroke="#222" stroke-width="1"/>
<circle cx="55.4" cy="688.3" r="1.75" fill="#8c8cf2" stroke="#5050b8" stroke-width="0.5"/>
<circle cx="55.4" cy="714" r="1.75" fill="#8c8cf2" stroke="#5050b8" stroke-width="0.5"/>
<circle cx="55.4" cy="719.3" r="1.75" fill="#8c8cf2" stroke="#5050b8" stroke-width="0.5"/>
<line x1="77.8" y1="660.4" x2="77.8" y2="687.4" stroke="#777" stroke-width="0.7"/>
<line x1="74.8" y1="660.4" x2="80.8" y2="660.4" stroke="#777" stroke-width="0.7"/>
<line x1="74.8" y1="687.4" x2="80.8" y2="687.4" stroke="#777" stroke-width="0.7"/>
<line x1="70.3" y1="678.6" x2="85.3" y2="678.6" stroke="#222" stroke-width="1"/>
<circle cx="77.8" cy="660.4" r="1.75" fill="#8c8cf2" stroke="#5050b8" stroke-width="0.5"/>
<circle cx="77.8" cy="678.6" r="1.75" fill="#8c8cf2" stroke="#5050b8" stroke-width="0.5"/>
<circle cx="77.8" cy="687.4" r="1.75" fill="#8c8cf2" stroke="#5050b8" stroke-width="0.5"/>
<line x1="100" y1="719.8" x2="100" y2="720.2" stroke="#777" stroke-width="0.7"/>
<line x1="97" y1="719.8" x2="103" y2="719.8" stroke="#777" stroke-width="0.7"/>
<line x1="97" y1="720.2" x2="103" y2="720.2" stroke="#777" stroke-width="0.7"/>
<line x1="92.5" y1="719.9" x2="107.5" y2="719.9" stroke="#222" stroke-width="1"/>
<circle cx="94.4" cy="720.2" r="1.75" fill="#8c8cf2" stroke="#5050b8" stroke-width="0.5"/>
<circle cx="100" cy="719.8" r="1.75" fill="#8c8cf2" stroke="#5050b8" stroke-width="0.5"/>
<circle cx="105.8" cy="719.8" r="1.75" fill="#8c8cf2" stroke="#5050b8" stroke-width="0.5"/>
<line x1="141.5" y1="636.8" x2="141.5" y2="721.9" stroke="#2e2e2e" stroke-width="0.95"/>
<line x1="141" y1="721.4" x2="216.3" y2="721.4" stroke="#2e2e2e" stroke-width="0.95"/>
<line x1="136.9" y1="637.3" x2="141.5" y2="637.3" stroke="#2e2e2e" stroke-width="0.95"/>
<text x="133.9" y="640" font-size="7.9" text-anchor="end">4</text>
<line x1="136.9" y1="658.3" x2="141.5" y2="658.3" stroke="#2e2e2e" stroke-width="0.95"/>
<text x="133.9" y="661" font-size="7.9" text-anchor="end">2</text>
<line x1="136.9" y1="679.3" x2="141.5" y2="679.3" stroke="#2e2e2e" stroke-width="0.95"/>
<text x="133.9" y="682" font-size="7.9" text-anchor="end">0</text>
<line x1="136.9" y1="700.4" x2="141.5" y2="700.4" stroke="#2e2e2e" stroke-width="0.95"/>
<text x="133.9" y="703.1" font-size="7.9" text-anchor="end">-2</text>
<line x1="136.9" y1="721.4" x2="141.5" y2="721.4" stroke="#2e2e2e" stroke-width="0.95"/>
<text x="133.9" y="724.1" font-size="7.9" text-anchor="end">-4</text>
<line x1="156.3" y1="721.4" x2="156.3" y2="725.7" stroke="#2e2e2e" stroke-width="0.95"/>
<text x="156.3" y="733.3" font-size="8.2" text-anchor="middle">0</text>
<line x1="178.6" y1="721.4" x2="178.6" y2="725.7" stroke="#2e2e2e" stroke-width="0.95"/>
<text x="178.6" y="733.3" font-size="8.2" text-anchor="middle">2</text>
<line x1="201.2" y1="721.4" x2="201.2" y2="725.7" stroke="#2e2e2e" stroke-width="0.95"/>
<text x="201.2" y="733.3" font-size="8.2" text-anchor="middle">7</text>
<text x="178.7" y="742.1" font-size="7.73" text-anchor="middle">Days post boost</text>
<path d="M156.3 624.9V620.7H201.2V624.9" fill="none" stroke="#8a8a8a" stroke-width="0.7"/>
<path d="M156.3 638V633.8H177.2V638" fill="none" stroke="#8a8a8a" stroke-width="0.7"/>
<path d="M180.2 638V633.8H201.2V638" fill="none" stroke="#8a8a8a" stroke-width="0.7"/>
<text x="177.9" y="618.5" font-size="6.5" text-anchor="middle">0.1127</text>
<text x="166.75" y="631.6" font-size="6.5" text-anchor="middle">0.9769</text>
<text x="190.7" y="631.6" font-size="6.5" text-anchor="middle">0.1602</text>
<line x1="156.15" y1="645.7" x2="156.15" y2="658.3" stroke="#777" stroke-width="0.7"/>
<line x1="156.15" y1="687.4" x2="156.15" y2="689.9" stroke="#777" stroke-width="0.7"/>
<line x1="153.55" y1="645.7" x2="158.75" y2="645.7" stroke="#777" stroke-width="0.7"/>
<line x1="153.55" y1="689.9" x2="158.75" y2="689.9" stroke="#777" stroke-width="0.7"/>
<rect x="148.6" y="658.3" width="15.1" height="29.1" fill="none" stroke="#111" stroke-width="0.9"/>
<line x1="148.6" y1="673.7" x2="163.7" y2="673.7" stroke="#111" stroke-width="0.9"/>
<circle cx="156.3" cy="645.7" r="1.75" fill="#8c8cf2" stroke="#5050b8" stroke-width="0.5"/>
<circle cx="156.3" cy="662.9" r="1.75" fill="#8c8cf2" stroke="#5050b8" stroke-width="0.5"/>
<circle cx="153" cy="675" r="1.75" fill="#8c8cf2" stroke="#5050b8" stroke-width="0.5"/>
<circle cx="159.8" cy="673" r="1.75" fill="#8c8cf2" stroke="#5050b8" stroke-width="0.5"/>
<circle cx="159.8" cy="686.7" r="1.75" fill="#8c8cf2" stroke="#5050b8" stroke-width="0.5"/>
<circle cx="153" cy="689.9" r="1.75" fill="#8c8cf2" stroke="#5050b8" stroke-width="0.5"/>
<line x1="178.85" y1="645.4" x2="178.85" y2="658.3" stroke="#777" stroke-width="0.7"/>
<line x1="178.85" y1="694.6" x2="178.85" y2="695.1" stroke="#777" stroke-width="0.7"/>
<line x1="176.25" y1="645.4" x2="181.45" y2="645.4" stroke="#777" stroke-width="0.7"/>
<line x1="176.25" y1="695.1" x2="181.45" y2="695.1" stroke="#777" stroke-width="0.7"/>
<rect x="171.2" y="658.3" width="15.3" height="36.3" fill="none" stroke="#111" stroke-width="0.9"/>
<line x1="171.2" y1="673.6" x2="186.5" y2="673.6" stroke="#111" stroke-width="0.9"/>
<circle cx="178.8" cy="645.4" r="1.75" fill="#8c8cf2" stroke="#5050b8" stroke-width="0.5"/>
<circle cx="178.8" cy="662.7" r="1.75" fill="#8c8cf2" stroke="#5050b8" stroke-width="0.5"/>
<circle cx="178.8" cy="670.9" r="1.75" fill="#8c8cf2" stroke="#5050b8" stroke-width="0.5"/>
<circle cx="178.8" cy="676.4" r="1.75" fill="#8c8cf2" stroke="#5050b8" stroke-width="0.5"/>
<circle cx="182.1" cy="693.9" r="1.75" fill="#8c8cf2" stroke="#5050b8" stroke-width="0.5"/>
<circle cx="175.4" cy="695.1" r="1.75" fill="#8c8cf2" stroke="#5050b8" stroke-width="0.5"/>
<line x1="201.1" y1="674.3" x2="201.1" y2="680.9" stroke="#777" stroke-width="0.7"/>
<line x1="201.1" y1="702.3" x2="201.1" y2="709" stroke="#777" stroke-width="0.7"/>
<line x1="198.5" y1="674.3" x2="203.7" y2="674.3" stroke="#777" stroke-width="0.7"/>
<line x1="198.5" y1="709" x2="203.7" y2="709" stroke="#777" stroke-width="0.7"/>
<rect x="193.5" y="680.9" width="15.2" height="21.4" fill="none" stroke="#111" stroke-width="0.9"/>
<line x1="193.5" y1="693.4" x2="208.7" y2="693.4" stroke="#111" stroke-width="0.9"/>
<circle cx="201.2" cy="674.3" r="1.75" fill="#8c8cf2" stroke="#5050b8" stroke-width="0.5"/>
<circle cx="201.2" cy="683" r="1.75" fill="#8c8cf2" stroke="#5050b8" stroke-width="0.5"/>
<circle cx="201.2" cy="690.7" r="1.75" fill="#8c8cf2" stroke="#5050b8" stroke-width="0.5"/>
<circle cx="201.2" cy="695.6" r="1.75" fill="#8c8cf2" stroke="#5050b8" stroke-width="0.5"/>
<circle cx="201.2" cy="700" r="1.75" fill="#8c8cf2" stroke="#5050b8" stroke-width="0.5"/>
<circle cx="201.2" cy="709" r="1.75" fill="#8c8cf2" stroke="#5050b8" stroke-width="0.5"/>
<line x1="264.5" y1="636.1" x2="264.5" y2="721.5" stroke="#2e2e2e" stroke-width="0.95"/>
<line x1="264" y1="721" x2="340" y2="721" stroke="#2e2e2e" stroke-width="0.95"/>
<line x1="259.9" y1="636.6" x2="264.5" y2="636.6" stroke="#2e2e2e" stroke-width="0.95"/>
<text x="256.9" y="639.3" font-size="7.9" text-anchor="end">2</text>
<line x1="259.9" y1="657.4" x2="264.5" y2="657.4" stroke="#2e2e2e" stroke-width="0.95"/>
<text x="256.9" y="660.1" font-size="7.9" text-anchor="end">0</text>
<line x1="259.9" y1="678.6" x2="264.5" y2="678.6" stroke="#2e2e2e" stroke-width="0.95"/>
<text x="256.9" y="681.3" font-size="7.9" text-anchor="end">-2</text>
<line x1="259.9" y1="700" x2="264.5" y2="700" stroke="#2e2e2e" stroke-width="0.95"/>
<text x="256.9" y="702.7" font-size="7.9" text-anchor="end">-4</text>
<line x1="259.9" y1="721" x2="264.5" y2="721" stroke="#2e2e2e" stroke-width="0.95"/>
<text x="256.9" y="723.7" font-size="7.9" text-anchor="end">-6</text>
<line x1="279.2" y1="721" x2="279.2" y2="725.3" stroke="#2e2e2e" stroke-width="0.95"/>
<text x="279.2" y="733.3" font-size="8.2" text-anchor="middle">0</text>
<line x1="301.5" y1="721" x2="301.5" y2="725.3" stroke="#2e2e2e" stroke-width="0.95"/>
<text x="301.5" y="733.3" font-size="8.2" text-anchor="middle">2</text>
<line x1="324.1" y1="721" x2="324.1" y2="725.3" stroke="#2e2e2e" stroke-width="0.95"/>
<text x="324.1" y="733.3" font-size="8.2" text-anchor="middle">7</text>
<text x="302.3" y="742.1" font-size="7.73" text-anchor="middle">Days post prime</text>
<text x="245.6" y="688.4" font-size="7.95" text-anchor="middle" transform="rotate(-90 245.6 688.4)">Signature score</text>
<path d="M279.2 624.9V620.7H324.1V624.9" fill="none" stroke="#8a8a8a" stroke-width="0.7"/>
<path d="M279.2 638V633.8H300.1V638" fill="none" stroke="#8a8a8a" stroke-width="0.7"/>
<path d="M303.1 638V633.8H324.1V638" fill="none" stroke="#8a8a8a" stroke-width="0.7"/>
<text x="300.8" y="618.5" font-size="6.5" text-anchor="middle">0.9334</text>
<text x="289.65" y="631.6" font-size="6.5" text-anchor="middle">0.0231</text>
<text x="313.6" y="631.6" font-size="6.5" text-anchor="middle">0.0351</text>
<line x1="279.2" y1="638" x2="279.2" y2="649" stroke="#777" stroke-width="0.7"/>
<line x1="276.2" y1="638" x2="282.2" y2="638" stroke="#777" stroke-width="0.7"/>
<line x1="276.2" y1="649" x2="282.2" y2="649" stroke="#777" stroke-width="0.7"/>
<line x1="271.7" y1="646.4" x2="286.7" y2="646.4" stroke="#222" stroke-width="1"/>
<circle cx="279.2" cy="638" r="1.75" fill="#8c8cf2" stroke="#5050b8" stroke-width="0.5"/>
<circle cx="275.9" cy="649" r="1.75" fill="#8c8cf2" stroke="#5050b8" stroke-width="0.5"/>
<circle cx="282.6" cy="646.6" r="1.75" fill="#8c8cf2" stroke="#5050b8" stroke-width="0.5"/>
<line x1="301.5" y1="669.7" x2="301.5" y2="701.6" stroke="#777" stroke-width="0.7"/>
<line x1="298.5" y1="669.7" x2="304.5" y2="669.7" stroke="#777" stroke-width="0.7"/>
<line x1="298.5" y1="701.6" x2="304.5" y2="701.6" stroke="#777" stroke-width="0.7"/>
<line x1="294" y1="670.4" x2="309" y2="670.4" stroke="#222" stroke-width="1"/>
<circle cx="298.3" cy="669.7" r="1.75" fill="#8c8cf2" stroke="#5050b8" stroke-width="0.5"/>
<circle cx="305" cy="670.6" r="1.75" fill="#8c8cf2" stroke="#5050b8" stroke-width="0.5"/>
<circle cx="301.5" cy="701.6" r="1.75" fill="#8c8cf2" stroke="#5050b8" stroke-width="0.5"/>
<line x1="324.1" y1="642.7" x2="324.1" y2="656.9" stroke="#777" stroke-width="0.7"/>
<line x1="321.1" y1="642.7" x2="327.1" y2="642.7" stroke="#777" stroke-width="0.7"/>
<line x1="321.1" y1="656.9" x2="327.1" y2="656.9" stroke="#777" stroke-width="0.7"/>
<line x1="316.6" y1="644.1" x2="331.6" y2="644.1" stroke="#222" stroke-width="1"/>
<circle cx="320.6" cy="642.7" r="1.75" fill="#8c8cf2" stroke="#5050b8" stroke-width="0.5"/>
<circle cx="327.4" cy="644.1" r="1.75" fill="#8c8cf2" stroke="#5050b8" stroke-width="0.5"/>
<circle cx="324.1" cy="656.9" r="1.75" fill="#8c8cf2" stroke="#5050b8" stroke-width="0.5"/>
<line x1="363.2" y1="635.1" x2="363.2" y2="720.5" stroke="#2e2e2e" stroke-width="0.95"/>
<line x1="362.7" y1="720" x2="437.9" y2="720" stroke="#2e2e2e" stroke-width="0.95"/>
<line x1="358.6" y1="635.6" x2="363.2" y2="635.6" stroke="#2e2e2e" stroke-width="0.95"/>
<text x="355.6" y="638.3" font-size="7.9" text-anchor="end">4</text>
<line x1="358.6" y1="656.4" x2="363.2" y2="656.4" stroke="#2e2e2e" stroke-width="0.95"/>
<text x="355.6" y="659.1" font-size="7.9" text-anchor="end">2</text>
<line x1="358.6" y1="677.4" x2="363.2" y2="677.4" stroke="#2e2e2e" stroke-width="0.95"/>
<text x="355.6" y="680.1" font-size="7.9" text-anchor="end">0</text>
<line x1="358.6" y1="698.8" x2="363.2" y2="698.8" stroke="#2e2e2e" stroke-width="0.95"/>
<text x="355.6" y="701.5" font-size="7.9" text-anchor="end">-2</text>
<line x1="358.6" y1="720" x2="363.2" y2="720" stroke="#2e2e2e" stroke-width="0.95"/>
<text x="355.6" y="722.7" font-size="7.9" text-anchor="end">-4</text>
<line x1="378.1" y1="720" x2="378.1" y2="724.3" stroke="#2e2e2e" stroke-width="0.95"/>
<text x="378.1" y="733.3" font-size="8.2" text-anchor="middle">0</text>
<line x1="400.5" y1="720" x2="400.5" y2="724.3" stroke="#2e2e2e" stroke-width="0.95"/>
<text x="400.5" y="733.3" font-size="8.2" text-anchor="middle">2</text>
<line x1="423.1" y1="720" x2="423.1" y2="724.3" stroke="#2e2e2e" stroke-width="0.95"/>
<text x="423.1" y="733.3" font-size="8.2" text-anchor="middle">7</text>
<text x="400.6" y="742.1" font-size="7.73" text-anchor="middle">Days post boost</text>
<path d="M378.1 624.9V620.7H423.1V624.9" fill="none" stroke="#8a8a8a" stroke-width="0.7"/>
<path d="M378.1 638V633.8H399.1V638" fill="none" stroke="#8a8a8a" stroke-width="0.7"/>
<path d="M402.1 638V633.8H423.1V638" fill="none" stroke="#8a8a8a" stroke-width="0.7"/>
<text x="399.8" y="618.5" font-size="6.5" text-anchor="middle">0.2093</text>
<text x="388.6" y="631.6" font-size="6.5" text-anchor="middle">0.1866</text>
<text x="412.6" y="631.6" font-size="6.5" text-anchor="middle">0.0065</text>
<line x1="378" y1="659.6" x2="378" y2="664.6" stroke="#777" stroke-width="0.7"/>
<line x1="378" y1="691.3" x2="378" y2="701.8" stroke="#777" stroke-width="0.7"/>
<line x1="375.4" y1="659.6" x2="380.6" y2="659.6" stroke="#777" stroke-width="0.7"/>
<line x1="375.4" y1="701.8" x2="380.6" y2="701.8" stroke="#777" stroke-width="0.7"/>
<rect x="370.4" y="664.6" width="15.2" height="26.7" fill="none" stroke="#111" stroke-width="0.9"/>
<line x1="370.4" y1="675.8" x2="385.6" y2="675.8" stroke="#111" stroke-width="0.9"/>
<circle cx="378.1" cy="659.6" r="1.75" fill="#8c8cf2" stroke="#5050b8" stroke-width="0.5"/>
<circle cx="378.1" cy="666.6" r="1.75" fill="#8c8cf2" stroke="#5050b8" stroke-width="0.5"/>
<circle cx="374.6" cy="676.2" r="1.75" fill="#8c8cf2" stroke="#5050b8" stroke-width="0.5"/>
<circle cx="381.4" cy="675.7" r="1.75" fill="#8c8cf2" stroke="#5050b8" stroke-width="0.5"/>
<circle cx="378.1" cy="688.5" r="1.75" fill="#8c8cf2" stroke="#5050b8" stroke-width="0.5"/>
<circle cx="378.1" cy="701.8" r="1.75" fill="#8c8cf2" stroke="#5050b8" stroke-width="0.5"/>
<line x1="400.55" y1="641.9" x2="400.55" y2="655.3" stroke="#777" stroke-width="0.7"/>
<line x1="400.55" y1="671.3" x2="400.55" y2="680" stroke="#777" stroke-width="0.7"/>
<line x1="397.95" y1="641.9" x2="403.15" y2="641.9" stroke="#777" stroke-width="0.7"/>
<line x1="397.95" y1="680" x2="403.15" y2="680" stroke="#777" stroke-width="0.7"/>
<rect x="393" y="655.3" width="15.1" height="16" fill="none" stroke="#111" stroke-width="0.9"/>
<line x1="393" y1="664.1" x2="408.1" y2="664.1" stroke="#111" stroke-width="0.9"/>
<circle cx="400.7" cy="641.9" r="1.75" fill="#8c8cf2" stroke="#5050b8" stroke-width="0.5"/>
<circle cx="397.2" cy="660.1" r="1.75" fill="#8c8cf2" stroke="#5050b8" stroke-width="0.5"/>
<circle cx="404" cy="660.6" r="1.75" fill="#8c8cf2" stroke="#5050b8" stroke-width="0.5"/>
<circle cx="397.2" cy="667.6" r="1.75" fill="#8c8cf2" stroke="#5050b8" stroke-width="0.5"/>
<circle cx="404" cy="668.3" r="1.75" fill="#8c8cf2" stroke="#5050b8" stroke-width="0.5"/>
<circle cx="400.7" cy="680" r="1.75" fill="#8c8cf2" stroke="#5050b8" stroke-width="0.5"/>
<line x1="423.05" y1="674.4" x2="423.05" y2="682.3" stroke="#777" stroke-width="0.7"/>
<line x1="423.05" y1="701.4" x2="423.05" y2="715.6" stroke="#777" stroke-width="0.7"/>
<line x1="420.45" y1="674.4" x2="425.65" y2="674.4" stroke="#777" stroke-width="0.7"/>
<line x1="420.45" y1="715.6" x2="425.65" y2="715.6" stroke="#777" stroke-width="0.7"/>
<rect x="415.4" y="682.3" width="15.3" height="19.1" fill="none" stroke="#111" stroke-width="0.9"/>
<line x1="415.4" y1="691.3" x2="430.7" y2="691.3" stroke="#111" stroke-width="0.9"/>
<circle cx="423.1" cy="674.4" r="1.75" fill="#8c8cf2" stroke="#5050b8" stroke-width="0.5"/>
<circle cx="419.8" cy="685.1" r="1.75" fill="#8c8cf2" stroke="#5050b8" stroke-width="0.5"/>
<circle cx="426.5" cy="687.9" r="1.75" fill="#8c8cf2" stroke="#5050b8" stroke-width="0.5"/>
<circle cx="419.8" cy="694.9" r="1.75" fill="#8c8cf2" stroke="#5050b8" stroke-width="0.5"/>
<circle cx="426.5" cy="696.3" r="1.75" fill="#8c8cf2" stroke="#5050b8" stroke-width="0.5"/>
<circle cx="423.1" cy="715.6" r="1.75" fill="#8c8cf2" stroke="#5050b8" stroke-width="0.5"/>
<line x1="487.1" y1="634.3" x2="487.1" y2="719.8" stroke="#2e2e2e" stroke-width="0.95"/>
<line x1="486.6" y1="719.3" x2="561.9" y2="719.3" stroke="#2e2e2e" stroke-width="0.95"/>
<line x1="482.5" y1="634.8" x2="487.1" y2="634.8" stroke="#2e2e2e" stroke-width="0.95"/>
<text x="479.5" y="637.5" font-size="7.9" text-anchor="end">4</text>
<line x1="482.5" y1="651.7" x2="487.1" y2="651.7" stroke="#2e2e2e" stroke-width="0.95"/>
<text x="479.5" y="654.4" font-size="7.9" text-anchor="end">2</text>
<line x1="482.5" y1="668.5" x2="487.1" y2="668.5" stroke="#2e2e2e" stroke-width="0.95"/>
<text x="479.5" y="671.2" font-size="7.9" text-anchor="end">0</text>
<line x1="482.5" y1="685.5" x2="487.1" y2="685.5" stroke="#2e2e2e" stroke-width="0.95"/>
<text x="479.5" y="688.2" font-size="7.9" text-anchor="end">-2</text>
<line x1="482.5" y1="702.3" x2="487.1" y2="702.3" stroke="#2e2e2e" stroke-width="0.95"/>
<text x="479.5" y="705" font-size="7.9" text-anchor="end">-4</text>
<line x1="482.5" y1="719.3" x2="487.1" y2="719.3" stroke="#2e2e2e" stroke-width="0.95"/>
<text x="479.5" y="722" font-size="7.9" text-anchor="end">-6</text>
<line x1="501.6" y1="719.3" x2="501.6" y2="723.6" stroke="#2e2e2e" stroke-width="0.95"/>
<text x="501.6" y="733.3" font-size="8.2" text-anchor="middle">0</text>
<line x1="524.2" y1="719.3" x2="524.2" y2="723.6" stroke="#2e2e2e" stroke-width="0.95"/>
<text x="524.2" y="733.3" font-size="8.2" text-anchor="middle">2</text>
<line x1="546.6" y1="719.3" x2="546.6" y2="723.6" stroke="#2e2e2e" stroke-width="0.95"/>
<text x="546.6" y="733.3" font-size="8.2" text-anchor="middle">7</text>
<text x="524.3" y="742.1" font-size="7.73" text-anchor="middle">Days post prime</text>
<text x="468.3" y="685.7" font-size="7.95" text-anchor="middle" transform="rotate(-90 468.3 685.7)">Signature score</text>
<path d="M501.6 624.9V620.7H546.6V624.9" fill="none" stroke="#8a8a8a" stroke-width="0.7"/>
<path d="M501.6 638V633.8H522.6V638" fill="none" stroke="#8a8a8a" stroke-width="0.7"/>
<path d="M525.8 638V633.8H546.6V638" fill="none" stroke="#8a8a8a" stroke-width="0.7"/>
<text x="523.5" y="618.5" font-size="6.5" text-anchor="middle">0.9884</text>
<text x="512.1" y="631.6" font-size="6.5" text-anchor="middle">0.0004</text>
<text x="536.2" y="631.6" font-size="6.5" text-anchor="middle">0.0004</text>
<line x1="501.8" y1="644.3" x2="501.8" y2="655" stroke="#777" stroke-width="0.7"/>
<line x1="498.8" y1="644.3" x2="504.8" y2="644.3" stroke="#777" stroke-width="0.7"/>
<line x1="498.8" y1="655" x2="504.8" y2="655" stroke="#777" stroke-width="0.7"/>
<line x1="494.3" y1="654.3" x2="509.3" y2="654.3" stroke="#222" stroke-width="1"/>
<circle cx="501.8" cy="644.3" r="1.75" fill="#8c8cf2" stroke="#5050b8" stroke-width="0.5"/>
<circle cx="498.4" cy="655" r="1.75" fill="#8c8cf2" stroke="#5050b8" stroke-width="0.5"/>
<circle cx="505.3" cy="654.1" r="1.75" fill="#8c8cf2" stroke="#5050b8" stroke-width="0.5"/>
<line x1="524.4" y1="695.5" x2="524.4" y2="713.2" stroke="#777" stroke-width="0.7"/>
<line x1="521.4" y1="695.5" x2="527.4" y2="695.5" stroke="#777" stroke-width="0.7"/>
<line x1="521.4" y1="713.2" x2="527.4" y2="713.2" stroke="#777" stroke-width="0.7"/>
<line x1="516.9" y1="701.1" x2="531.9" y2="701.1" stroke="#222" stroke-width="1"/>
<circle cx="524.4" cy="695.5" r="1.75" fill="#8c8cf2" stroke="#5050b8" stroke-width="0.5"/>
<circle cx="524.4" cy="701.1" r="1.75" fill="#8c8cf2" stroke="#5050b8" stroke-width="0.5"/>
<circle cx="524.4" cy="713.2" r="1.75" fill="#8c8cf2" stroke="#5050b8" stroke-width="0.5"/>
<line x1="546.8" y1="643.4" x2="546.8" y2="656.7" stroke="#777" stroke-width="0.7"/>
<line x1="543.8" y1="643.4" x2="549.8" y2="643.4" stroke="#777" stroke-width="0.7"/>
<line x1="543.8" y1="656.7" x2="549.8" y2="656.7" stroke="#777" stroke-width="0.7"/>
<line x1="539.3" y1="655.9" x2="554.3" y2="655.9" stroke="#222" stroke-width="1"/>
<circle cx="546.8" cy="643.4" r="1.75" fill="#8c8cf2" stroke="#5050b8" stroke-width="0.5"/>
<circle cx="543.3" cy="656.7" r="1.75" fill="#8c8cf2" stroke="#5050b8" stroke-width="0.5"/>
<circle cx="550.1" cy="655.9" r="1.75" fill="#8c8cf2" stroke="#5050b8" stroke-width="0.5"/>
<line x1="591.3" y1="633.8" x2="591.3" y2="719.4" stroke="#2e2e2e" stroke-width="0.95"/>
<line x1="590.8" y1="718.9" x2="666.1" y2="718.9" stroke="#2e2e2e" stroke-width="0.95"/>
<line x1="586.7" y1="634.3" x2="591.3" y2="634.3" stroke="#2e2e2e" stroke-width="0.95"/>
<text x="583.7" y="637" font-size="7.9" text-anchor="end">10</text>
<line x1="586.7" y1="655.3" x2="591.3" y2="655.3" stroke="#2e2e2e" stroke-width="0.95"/>
<text x="583.7" y="658" font-size="7.9" text-anchor="end">5</text>
<line x1="586.7" y1="676.4" x2="591.3" y2="676.4" stroke="#2e2e2e" stroke-width="0.95"/>
<text x="583.7" y="679.1" font-size="7.9" text-anchor="end">0</text>
<line x1="586.7" y1="697.6" x2="591.3" y2="697.6" stroke="#2e2e2e" stroke-width="0.95"/>
<text x="583.7" y="700.3" font-size="7.9" text-anchor="end">-5</text>
<line x1="586.7" y1="718.9" x2="591.3" y2="718.9" stroke="#2e2e2e" stroke-width="0.95"/>
<text x="583.7" y="721.6" font-size="7.9" text-anchor="end">-10</text>
<line x1="605.8" y1="718.9" x2="605.8" y2="723.2" stroke="#2e2e2e" stroke-width="0.95"/>
<text x="605.8" y="733.3" font-size="8.2" text-anchor="middle">0</text>
<line x1="628.4" y1="718.9" x2="628.4" y2="723.2" stroke="#2e2e2e" stroke-width="0.95"/>
<text x="628.4" y="733.3" font-size="8.2" text-anchor="middle">2</text>
<line x1="650.8" y1="718.9" x2="650.8" y2="723.2" stroke="#2e2e2e" stroke-width="0.95"/>
<text x="650.8" y="733.3" font-size="8.2" text-anchor="middle">7</text>
<text x="628.5" y="742.1" font-size="7.73" text-anchor="middle">Days post boost</text>
<path d="M605.8 624.9V620.7H650.8V624.9" fill="none" stroke="#8a8a8a" stroke-width="0.7"/>
<path d="M605.8 638V633.8H627V638" fill="none" stroke="#8a8a8a" stroke-width="0.7"/>
<path d="M630 638V633.8H650.8V638" fill="none" stroke="#8a8a8a" stroke-width="0.7"/>
<text x="627.7" y="618.5" font-size="6.5" text-anchor="middle">0.6273</text>
<text x="616.4" y="631.6" font-size="6.5" text-anchor="middle">0.5238</text>
<text x="640.4" y="631.6" font-size="6.5" text-anchor="middle">0.1361</text>
<line x1="605.9" y1="656.4" x2="605.9" y2="668.1" stroke="#777" stroke-width="0.7"/>
<line x1="605.9" y1="688.3" x2="605.9" y2="700.2" stroke="#777" stroke-width="0.7"/>
<line x1="603.3" y1="656.4" x2="608.5" y2="656.4" stroke="#777" stroke-width="0.7"/>
<line x1="603.3" y1="700.2" x2="608.5" y2="700.2" stroke="#777" stroke-width="0.7"/>
<rect x="598.3" y="668.1" width="15.2" height="20.2" fill="none" stroke="#111" stroke-width="0.9"/>
<line x1="598.3" y1="675.3" x2="613.5" y2="675.3" stroke="#111" stroke-width="0.9"/>
<circle cx="606" cy="656.4" r="1.75" fill="#8c8cf2" stroke="#5050b8" stroke-width="0.5"/>
<circle cx="602.5" cy="672" r="1.75" fill="#8c8cf2" stroke="#5050b8" stroke-width="0.5"/>
<circle cx="609.3" cy="673.4" r="1.75" fill="#8c8cf2" stroke="#5050b8" stroke-width="0.5"/>
<circle cx="602.5" cy="676.4" r="1.75" fill="#8c8cf2" stroke="#5050b8" stroke-width="0.5"/>
<circle cx="606" cy="684.6" r="1.75" fill="#8c8cf2" stroke="#5050b8" stroke-width="0.5"/>
<circle cx="606" cy="700.2" r="1.75" fill="#8c8cf2" stroke="#5050b8" stroke-width="0.5"/>
<line x1="628.35" y1="651.3" x2="628.35" y2="661" stroke="#777" stroke-width="0.7"/>
<line x1="628.35" y1="678.5" x2="628.35" y2="683.9" stroke="#777" stroke-width="0.7"/>
<line x1="625.75" y1="651.3" x2="630.95" y2="651.3" stroke="#777" stroke-width="0.7"/>
<line x1="625.75" y1="683.9" x2="630.95" y2="683.9" stroke="#777" stroke-width="0.7"/>
<rect x="620.7" y="661" width="15.3" height="17.5" fill="none" stroke="#111" stroke-width="0.9"/>
<line x1="620.7" y1="668.3" x2="636" y2="668.3" stroke="#111" stroke-width="0.9"/>
<circle cx="628.4" cy="651.3" r="1.75" fill="#8c8cf2" stroke="#5050b8" stroke-width="0.5"/>
<circle cx="625.1" cy="664.1" r="1.75" fill="#8c8cf2" stroke="#5050b8" stroke-width="0.5"/>
<circle cx="631.7" cy="664.8" r="1.75" fill="#8c8cf2" stroke="#5050b8" stroke-width="0.5"/>
<circle cx="628.4" cy="672.3" r="1.75" fill="#8c8cf2" stroke="#5050b8" stroke-width="0.5"/>
<circle cx="628.4" cy="676.7" r="1.75" fill="#8c8cf2" stroke="#5050b8" stroke-width="0.5"/>
<circle cx="628.4" cy="683.9" r="1.75" fill="#8c8cf2" stroke="#5050b8" stroke-width="0.5"/>
<line x1="650.95" y1="666" x2="650.95" y2="673.2" stroke="#777" stroke-width="0.7"/>
<line x1="650.95" y1="694.4" x2="650.95" y2="702.5" stroke="#777" stroke-width="0.7"/>
<line x1="648.35" y1="666" x2="653.55" y2="666" stroke="#777" stroke-width="0.7"/>
<line x1="648.35" y1="702.5" x2="653.55" y2="702.5" stroke="#777" stroke-width="0.7"/>
<rect x="643.3" y="673.2" width="15.3" height="21.2" fill="none" stroke="#111" stroke-width="0.9"/>
<line x1="643.3" y1="684.3" x2="658.6" y2="684.3" stroke="#111" stroke-width="0.9"/>
<circle cx="650.8" cy="666" r="1.75" fill="#8c8cf2" stroke="#5050b8" stroke-width="0.5"/>
<circle cx="650.8" cy="675.8" r="1.75" fill="#8c8cf2" stroke="#5050b8" stroke-width="0.5"/>
<circle cx="654.2" cy="682.9" r="1.75" fill="#8c8cf2" stroke="#5050b8" stroke-width="0.5"/>
<circle cx="647.5" cy="686" r="1.75" fill="#8c8cf2" stroke="#5050b8" stroke-width="0.5"/>
<circle cx="650.8" cy="691.3" r="1.75" fill="#8c8cf2" stroke="#5050b8" stroke-width="0.5"/>
<circle cx="650.8" cy="702.5" r="1.75" fill="#8c8cf2" stroke="#5050b8" stroke-width="0.5"/>
<text x="1.6" y="781.6" font-size="14">f</text>
<text x="30.7" y="781.9" font-size="8.25">Day 2 post prime</text>
<path d="M103.9 806.3L148.9 781.1M103.9 806.3L148.1 831.5M103.9 806.3L167.2 869.7M103.9 806.3L163.7 896M103.9 806.3L83.6 878.8M103.9 806.3L102.1 911M148.9 781.1L148.1 831.5M148.9 781.1L167.2 869.7M148.9 781.1L163.7 896M197.8 807.2L148.1 831.5M197.8 807.2L167.2 869.7M197.8 807.2L163.7 896M197.8 807.2L210.4 854.3M148.1 831.5L210.4 854.3M210.4 854.3L167.2 869.7M210.4 854.3L163.7 896M83.6 878.8L148.1 831.5M83.6 878.8L167.2 869.7M83.6 878.8L163.7 896M83.6 878.8L102.1 911M102.1 911L148.1 831.5M102.1 911L167.2 869.7M102.1 911L163.7 896" stroke="#b8b8b8" stroke-width="0.8" fill="none"/>
<path d="M103.9 806.3L197.8 807.2" stroke="#8a8a8a" stroke-width="1.4" fill="none"/>
<path d="M148.9 781.1L197.8 807.2M148.1 831.5L167.2 869.7M148.1 831.5L163.7 896M167.2 869.7L163.7 896" stroke="#707070" stroke-width="2.2" fill="none"/>
<path d="M84.3 847L148.9 781.1M84.3 847L197.8 807.2" stroke="#c0303a" stroke-width="1.3" fill="none"/>
<path d="M84.3 847L148.1 831.5M84.3 847L167.2 869.7" stroke="#c0303a" stroke-width="2" fill="none"/>
<path d="M84.3 847L163.7 896" stroke="#c0303a" stroke-width="2.4" fill="none"/>
<path d="M84.3 847L103.9 806.3M84.3 847L102.1 911M84.3 847L83.6 878.8" stroke="#c0303a" stroke-width="3" fill="none"/>
<circle cx="148.9" cy="781.1" r="7" fill="#2fa81f" stroke="#1f7a14" stroke-width="0.6"/>
<circle cx="197.8" cy="807.2" r="7" fill="#2fa81f" stroke="#1f7a14" stroke-width="0.6"/>
<circle cx="103.9" cy="806.3" r="3" fill="#2fa81f" stroke="#1f7a14" stroke-width="0.6"/>
<circle cx="148.1" cy="831.5" r="5" fill="#cdeec6"/>
<circle cx="84.3" cy="847" r="4.8" fill="#b5202e" stroke="#7a1018" stroke-width="0.6"/>
<circle cx="210.4" cy="854.3" r="3" fill="#8fe08a"/>
<circle cx="167.2" cy="869.7" r="5" fill="#d2f0cb"/>
<circle cx="83.6" cy="878.8" r="2.9" fill="#cdeec6"/>
<circle cx="163.7" cy="896" r="5" fill="#8fe08a"/>
<circle cx="102.1" cy="911" r="3" fill="#8fe08a"/>
<text x="159" y="780.9" font-size="8">Response to virus</text>
<text x="206.7" y="806.2" font-size="8">Defense response to virus</text>
<text x="94.2" y="802.8" font-size="8" text-anchor="end">Type I interferon</text>
<text x="94.2" y="812.1" font-size="8" text-anchor="end">signaling pathway</text>
<text x="74.5" y="845.4" font-size="8" text-anchor="end">Response to</text>
<text x="74.5" y="854.7" font-size="8" text-anchor="end">type I interferon</text>
<text x="159" y="830.2" font-size="8">Negative regulation of viral</text>
<text x="159" y="839.5" font-size="8">genome replication</text>
<text x="214.6" y="851.7" font-size="8">Antiviral innate immune</text>
<text x="214.6" y="861" font-size="8">response</text>
<text x="176.1" y="874.8" font-size="8">Regulation of viral process</text>
<text x="85" y="891.1" font-size="8" text-anchor="end">Regulation of</text>
<text x="85" y="900.7" font-size="8" text-anchor="end">ribonuclease activity</text>
<text x="174.3" y="909.4" font-size="8" text-anchor="middle">Negative regulation of viral</text>
<text x="174.3" y="918.7" font-size="8" text-anchor="middle">process</text>
<text x="102.5" y="925.4" font-size="8" text-anchor="middle">Interleukin-27-mediated</text>
<text x="102.5" y="934.7" font-size="8" text-anchor="middle">signaling pathway</text>
<text x="325.6" y="781.1" font-size="8.25">Day 2 post boost</text>
<path d="M417.3 827.2L446.5 784.6M446.5 784.6L470.1 817M470.1 817L512.5 807.6M417.3 827.2L459.3 849.7M417.3 827.2L510.1 867.2M417.3 827.2L502.6 894.3M417.3 827.2L462.3 918M417.3 827.2L454.1 878M417.3 827.2L398.6 859M470.1 817L459.3 849.7M470.1 817L510.1 867.2M470.1 817L502.6 894.3M470.1 817L454.1 878M470.1 817L462.3 918M398.6 859L459.3 849.7M398.6 859L510.1 867.2M398.6 859L454.1 878M398.6 859L502.6 894.3M398.6 859L462.3 918M398.6 859L470.1 817M528.5 840.3L459.3 849.7M528.5 840.3L510.1 867.2M528.5 840.3L502.6 894.3M528.5 840.3L541.4 906.9M528.5 840.3L398.6 859M541.4 906.9L502.6 894.3M541.4 906.9L510.1 867.2M541.4 906.9L462.3 918M391 929.4L541.4 906.9M391 929.4L398.6 859M528.5 840.3L454.1 878M512.5 807.6L528.5 840.3" stroke="#b8b8b8" stroke-width="0.8" fill="none"/>
<path d="M459.3 849.7L454.1 878" stroke="#8a8a8a" stroke-width="1.5" fill="none"/>
<path d="M446.5 784.6L512.5 807.6M417.3 827.2L470.1 817M459.3 849.7L510.1 867.2M459.3 849.7L462.3 918M459.3 849.7L502.6 894.3M454.1 878L510.1 867.2M454.1 878L462.3 918M454.1 878L502.6 894.3M510.1 867.2L502.6 894.3M510.1 867.2L462.3 918M502.6 894.3L462.3 918" stroke="#707070" stroke-width="1.75" fill="none"/>
<path d="M405.9 897.3L459.3 849.7" stroke="#c0303a" stroke-width="1.2" fill="none"/>
<path d="M405.9 897.3L510.1 867.2M405.9 897.3L454.1 878M405.9 897.3L502.6 894.3M405.9 897.3L391 929.4" stroke="#c0303a" stroke-width="1.5" fill="none"/>
<path d="M405.9 897.3L417.3 827.2M405.9 897.3L470.1 817M405.9 897.3L462.3 918" stroke="#c0303a" stroke-width="1.85" fill="none"/>
<path d="M405.9 897.3L398.6 859" stroke="#c0303a" stroke-width="2.5" fill="none"/>
<circle cx="446.5" cy="784.6" r="4" fill="#8fe08a"/>
<circle cx="512.5" cy="807.6" r="4.5" fill="#8fe08a"/>
<circle cx="470.1" cy="817" r="6.5" fill="#2fa81f" stroke="#1f7a14" stroke-width="0.6"/>
<circle cx="417.3" cy="827.2" r="6.5" fill="#2fa81f" stroke="#1f7a14" stroke-width="0.6"/>
<circle cx="528.5" cy="840.3" r="2.8" fill="#d2f0cb"/>
<circle cx="459.3" cy="849.7" r="4.5" fill="#2fa81f" stroke="#1f7a14" stroke-width="0.6"/>
<circle cx="398.6" cy="859" r="6.5" fill="#2fa81f" stroke="#1f7a14" stroke-width="0.6"/>
<circle cx="510.1" cy="867.2" r="4.5" fill="#2fa81f" stroke="#1f7a14" stroke-width="0.6"/>
<circle cx="454.1" cy="878" r="6.5" fill="#2fa81f" stroke="#1f7a14" stroke-width="0.6"/>
<circle cx="502.6" cy="894.3" r="4.5" fill="#8fe08a"/>
<circle cx="405.9" cy="897.3" r="4.5" fill="#b5202e" stroke="#7a1018" stroke-width="0.6"/>
<circle cx="541.4" cy="906.9" r="2.8" fill="#d2f0cb"/>
<circle cx="462.3" cy="918" r="4.5" fill="#2fa81f" stroke="#1f7a14" stroke-width="0.6"/>
<circle cx="391" cy="929.4" r="2.8" fill="#d2f0cb"/>
<text x="452.6" y="773.2" font-size="8">Positive regulation of</text>
<text x="452.6" y="782.2" font-size="8">type I interferon production</text>
<text x="520" y="800" font-size="8">Positive regulation of</text>
<text x="520" y="810" font-size="8">interferon-beta production</text>
<text x="480.4" y="822.9" font-size="8">Defense response to virus</text>
<text x="408.2" y="829.8" font-size="8" text-anchor="end">Response to virus</text>
<text x="534.6" y="836.3" font-size="8">Regulation of</text>
<text x="534.6" y="845.6" font-size="8">ribonuclease activity</text>
<text x="408" y="844.7" font-size="8">Regulation of viral life cycle</text>
<text x="389.7" y="857.1" font-size="8" text-anchor="end">Type I interferon</text>
<text x="389.7" y="866.5" font-size="8" text-anchor="end">signaling pathway</text>
<text x="516.8" y="868.4" font-size="8">Negative regulation of viral process</text>
<text x="466.2" y="883.1" font-size="8">Regulation of viral process</text>
<text x="510.4" y="895.8" font-size="8">Viral genome replication</text>
<text x="395.6" y="894.3" font-size="8" text-anchor="end">Response to</text>
<text x="395.6" y="903.6" font-size="8" text-anchor="end">type I interferon</text>
<text x="547.8" y="908.6" font-size="8">Interleukin-27-mediated</text>
<text x="547.8" y="918.2" font-size="8">signaling pathway</text>
<text x="382" y="927.6" font-size="8" text-anchor="end">Response to</text>
<text x="382" y="937.2" font-size="8" text-anchor="end">interferon-alpha</text>
<text x="465.8" y="930.2" font-size="8">Negative regulation of viral</text>
<text x="465.8" y="939.5" font-size="8">genome replication</text>
<text x="656.1" y="776.3" font-size="7.8">n genes</text>
<circle cx="662.5" cy="790" r="6.9" fill="#2fa81f" stroke="#1f7a14" stroke-width="0.6"/>
<text x="672.9" y="792.6" font-size="7.5">16</text>
<circle cx="662.5" cy="807.3" r="4.7" fill="#2fa81f" stroke="#1f7a14" stroke-width="0.6"/>
<text x="675.2" y="809.9" font-size="7.5">8</text>
<circle cx="662.5" cy="824.7" r="2.8" fill="#2fa81f" stroke="#1f7a14" stroke-width="0.6"/>
<text x="675.2" y="827.3" font-size="7.5">4</text>
</svg>
</body></html>
